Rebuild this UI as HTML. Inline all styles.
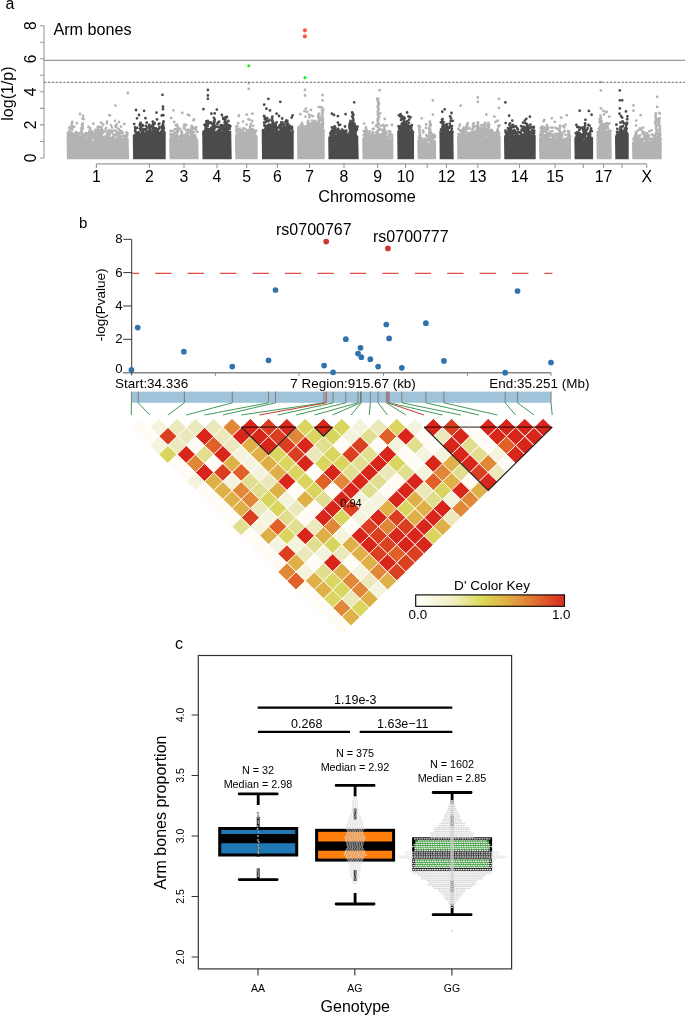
<!DOCTYPE html>
<html><head><meta charset="utf-8"><style>
html,body{margin:0;padding:0;background:#fff;}
svg{display:block;will-change:transform;font-family:"Liberation Sans", sans-serif;}
</style></head><body>
<svg width="685" height="1015" viewBox="0 0 685 1015">
<rect width="685" height="1015" fill="#fff"/>
<g>
<path d="M66.9 159.3L66.6 137.5L67.6 137.5L68.6 137.3L69.6 137L70.6 136.8L71.6 137L72.6 137.5L73.6 138.3L74.6 139.1L75.6 139.6L76.6 139.7L77.6 139.3L78.6 138.7L79.6 138.2L80.6 138L81.6 138.1L82.6 138.4L83.6 138.7L84.6 138.8L85.6 138.6L86.6 138.4L87.6 138.3L88.6 138.5L89.6 139.1L90.6 139.9L91.6 140.6L92.6 140.9L93.6 140.7L94.6 140.2L95.6 139.5L96.6 138.9L97.6 138.7L98.6 138.8L99.6 139L100.6 139.2L101.6 139.2L102.6 139L103.6 138.7L104.6 138.5L105.6 138.7L106.6 139.2L107.6 139.8L108.6 140.3L109.6 140.4L110.6 140L111.6 139.2L112.6 138.4L113.6 137.8L114.6 137.5L115.6 137.6L116.6 137.9L117.6 138L118.6 138L119.6 137.7L120.6 137.5L121.6 137.4L122.6 137.6L123.6 138.1L124.6 138.6L125.6 139L126.6 139L127.6 138.5L128.6 137.8L129.1 159.3Z" fill="#b3b3b3"/><path d="M133.1 159.3L132.8 134.9L133.8 134.3L134.8 133.7L135.8 133.2L136.8 133.2L137.8 133.4L138.8 133.9L139.8 134.4L140.8 134.9L141.8 135.1L142.8 135L143.8 134.8L144.8 134.4L145.8 134.1L146.8 133.8L147.8 133.6L148.8 133.5L149.8 133.4L150.8 133.2L151.8 132.9L152.8 132.5L153.8 132.1L154.8 131.9L155.8 132L156.8 132.3L157.8 132.8L158.8 133.3L159.8 133.8L160.8 133.9L161.8 133.7L162.8 133.2L163.8 132.6L164.8 131.9L165.7 131.6L165.7 159.3Z" fill="#4b4b4b"/><path d="M169.5 159.3L169.2 138.3L170.2 138.4L171.2 138.3L172.2 138L173.2 137.8L174.2 137.7L175.2 137.9L176.2 138.3L177.2 138.7L178.2 139L179.2 138.9L180.2 138.5L181.2 137.9L182.2 137.1L183.2 136.6L184.2 136.3L185.2 136.5L186.2 136.8L187.2 137.2L188.2 137.5L189.2 137.6L190.2 137.5L191.2 137.4L192.2 137.4L193.2 137.7L194.2 138.2L195.2 138.8L196.2 139.4L197.2 139.7L198.2 139.7L198.7 159.3Z" fill="#b3b3b3"/><path d="M202.5 159.3L202.2 133.1L203.2 133.3L204.2 132.9L205.2 132.2L206.2 131.7L207.2 131.7L208.2 132L209.2 132L210.2 131.5L211.2 130.7L212.2 130L213.2 129.9L214.2 130.3L215.2 130.9L216.2 131.3L217.2 131.2L218.2 130.7L219.2 130.3L220.2 130.4L221.2 130.8L222.2 131.2L223.2 131.1L224.2 130.5L225.2 129.7L226.2 129.3L227.2 129.4L228.2 130.1L229.2 130.7L230.2 130.9L231.2 130.8L231.7 159.3Z" fill="#4b4b4b"/><path d="M235.3 159.3L235 136.9L236 136L237 135.5L238 135.5L239 135.6L240 135.4L241 134.9L242 134.4L243 134.3L244 134.8L245 135.6L246 136.3L247 136.5L248 136L249 135.2L250 134.6L251 134.6L252 135L253 135.4L254 135.6L255 135.5L256 135.5L257 135.8L257.7 136.6L257.7 159.3Z" fill="#b3b3b3"/><path d="M262 159.3L261.7 130.5L262.7 130.7L263.7 130.9L264.7 130.8L265.7 130.3L266.7 129.6L267.7 129L268.7 128.7L269.7 128.9L270.7 129.6L271.7 130.5L272.7 131.3L273.7 131.7L274.7 131.7L275.7 131.5L276.7 131.4L277.7 131.4L278.7 131.7L279.7 132L280.7 132.2L281.7 132L282.7 131.5L283.7 131L284.7 130.6L285.7 130.7L286.7 131.3L287.7 132.1L288.7 132.7L289.7 133L290.7 132.9L291.7 132.4L292.7 131.8L293.7 131.3L293.7 159.3Z" fill="#4b4b4b"/><path d="M297.3 159.3L297 129.5L298 129L299 129L300 129.4L301 130.2L302 130.9L303 131.2L304 131.1L305 130.6L306 130.1L307 129.9L308 129.9L309 130L310 129.9L311 129.4L312 128.6L313 127.8L314 127.3L315 127.3L316 127.9L317 128.6L318 129.1L319 129.3L320 129.1L321 128.8L322 128.6L323 128.7L324 129.1L324.7 129.4L324.7 159.3Z" fill="#b3b3b3"/><path d="M328.5 159.3L328.2 136.5L329.2 136.9L330.2 136.6L331.2 136.2L332.2 135.9L333.2 136.2L334.2 136.8L335.2 137.2L336.2 137L337.2 136.1L338.2 135.2L339.2 134.8L340.2 134.9L341.2 135.1L342.2 135L343.2 134.5L344.2 133.9L345.2 133.8L346.2 134.4L347.2 135.4L348.2 136.2L349.2 136.5L350.2 136.4L351.2 136.3L352.2 136.6L353.2 137.3L354.2 137.9L355.2 137.9L356.2 137.2L357.2 136.4L358.2 135.9L358.7 159.3Z" fill="#4b4b4b"/><path d="M362.5 159.3L362.2 137.4L363.2 137.5L364.2 137.7L365.2 138L366.2 138.4L367.2 138.6L368.2 138.6L369.2 138.3L370.2 137.9L371.2 137.3L372.2 136.9L373.2 136.9L374.2 137.1L375.2 137.8L376.2 138.6L377.2 139.4L378.2 140.1L379.2 140.4L380.2 140.3L381.2 140L382.2 139.6L383.2 139.3L384.2 139.1L385.2 139L386.2 139.1L387.2 139.2L388.2 139.2L389.2 139.1L390.2 138.8L391.2 138.6L392.2 138.4L393.2 138.4L393.4 159.3Z" fill="#b3b3b3"/><path d="M397.5 159.3L397.2 130.7L398.2 130.3L399.2 130.1L400.2 130L401.2 130.1L402.2 130.1L403.2 130.1L404.2 129.9L405.2 129.6L406.2 129.3L407.2 129.2L408.2 129.4L409.2 129.8L410.2 130.4L411.2 131.1L412.2 131.7L413.2 131.9L414 131.8L414 159.3Z" fill="#4b4b4b"/><path d="M417.6 159.3L417.3 139.8L418.3 140.3L419.3 140.9L420.3 141.5L421.3 142L422.3 142.2L423.3 142.3L424.3 142.2L425.3 142.1L426.3 142.1L427.3 142.2L428.3 142.4L429.3 142.6L430.3 142.7L431.3 142.5L432.3 142.2L433.3 141.6L434.3 141L435.3 140.5L436.1 140.2L436.1 159.3Z" fill="#b3b3b3"/><path d="M439.7 159.3L439.4 131L440.4 131.3L441.4 131.8L442.4 131.9L443.4 131.6L444.4 131L445.4 130.7L446.4 130.9L447.4 131.5L448.4 132.3L449.4 132.7L450.4 132.5L451.4 132L452.4 131.6L453.4 131.6L453.7 159.3Z" fill="#4b4b4b"/><path d="M457.3 159.3L457 136.1L458 135.8L459 135.7L460 135.9L461 136.3L462 136.8L463 137.1L464 137.1L465 136.7L466 136L467 135.1L468 134.3L469 133.8L470 133.7L471 134.1L472 134.8L473 135.6L474 136.2L475 136.4L476 136.2L477 135.7L478 135.1L479 134.6L480 134.4L481 134.5L482 135L483 135.5L484 136.1L485 136.5L486 136.7L487 136.7L488 136.7L489 136.8L490 136.8L491 137L492 137.1L493 137.1L494 136.9L495 136.7L496 136.4L497 136.2L498 136.2L499 136.5L500 136.9L500.7 137.4L500.7 159.3Z" fill="#b3b3b3"/><path d="M504.3 159.3L504 136.2L505 136.4L506 136.8L507 137L508 136.9L509 136.4L510 135.5L511 134.8L512 134.4L513 134.5L514 135.1L515 135.7L516 136.1L517 136.1L518 135.7L519 135.2L520 134.9L521 134.8L522 134.8L523 134.9L524 134.6L525 134.1L526 133.4L527 132.9L528 132.8L529 133.3L530 134.1L531 135L532 135.6L533 135.8L534 135.5L535 135.2L535.7 135L535.7 159.3Z" fill="#4b4b4b"/><path d="M539.3 159.3L539 136.9L540 137.5L541 137.8L542 137.8L543 137.3L544 136.4L545 135.6L546 135.3L547 135.5L548 136.2L549 137.1L550 137.8L551 138L552 137.8L553 137.5L554 137.3L555 137.2L556 137.4L557 137.6L558 137.6L559 137.3L560 137L561 136.9L562 137.2L563 137.9L564 138.8L565 139.5L566 139.7L567 139.4L568 138.6L569 137.8L570 137.3L571 137.4L571 159.3Z" fill="#b3b3b3"/><path d="M574.6 159.3L574.3 137.3L575.3 137.5L576.3 137.4L577.3 137.2L578.3 137.2L579.3 137.5L580.3 138.2L581.3 139L582.3 139.7L583.3 139.8L584.3 139.6L585.3 139L586.3 138.5L587.3 138.3L588.3 138.4L589.3 138.7L590.3 138.8L591.3 138.6L592.3 138.1L593.1 137.5L593.1 159.3Z" fill="#4b4b4b"/><path d="M596.7 159.3L596.4 133.4L597.4 133L598.4 132.4L599.4 131.9L600.4 131.9L601.4 132.2L602.4 132.6L603.4 132.6L604.4 132.2L605.4 131.7L606.4 131.4L607.4 131.7L608.4 132.4L609.4 133.1L610.4 133.5L611.4 133.3L611.7 159.3Z" fill="#b3b3b3"/><path d="M615.3 159.3L615 136.1L616 136.7L617 136.9L618 136.5L619 135.7L620 134.9L621 134.4L622 134.3L623 134.5L624 134.6L625 134.3L626 133.8L627 133.2L628 133L628.7 133.3L628.7 159.3Z" fill="#4b4b4b"/><path d="M632.3 159.3L632 142.1L633 142.3L634 142L635 141.3L636 140.5L637 139.9L638 139.7L639 140L640 140.6L641 141.2L642 141.6L643 141.7L644 141.8L645 141.9L646 142.2L647 142.8L648 143.5L649 143.9L650 143.9L651 143.3L652 142.6L653 141.8L654 141.4L655 141.4L656 141.8L657 142.2L658 142.4L659 142.3L660 142L661 141.6L661.7 141.5L661.7 159.3Z" fill="#b3b3b3"/>
<path d="M71.4 135h0M70.2 135.6h0M72.1 137.2h0M93.5 135.6h0M75.4 138.8h0M105.7 129.5h0M102.6 137.8h0M126.7 139.4h0M119.6 137.4h0M76.6 139.7h0M86.5 133.5h0M78.8 136.3h0M106.4 137.7h0M100.9 139.5h0M71.5 136.6h0M108.9 138.9h0M86.8 136h0M95.2 139.5h0M115.7 134.1h0M82.6 135.8h0M99.5 132.4h0M111.8 138.6h0M126.9 139.1h0M93.1 136.7h0M77 137.9h0M70.3 133.8h0M113.9 135.5h0M120.6 136.7h0M109.8 137.9h0M102.8 137.5h0M118.5 129h0M96.4 136.4h0M71.6 133.3h0M106.9 123.2h0M117.4 137.2h0M91.1 136.7h0M69.3 135.7h0M78 139.4h0M71.4 132.5h0M75.7 139.2h0M91.4 133.6h0M72.8 136.1h0M101 132.6h0M117.2 131.8h0M84.7 137.5h0M89.5 131.9h0M125.6 138.6h0M78.5 138.9h0M81.9 136.4h0M103.4 138.5h0M68.1 136.2h0M90.1 136.9h0M125.3 135.3h0M98.9 136.1h0M108.6 140.6h0M122.1 132.8h0M120.5 133h0M91.5 138.7h0M74.1 135.5h0M71.6 137.3h0M80.5 138.1h0M88.4 138.6h0M67.9 137.4h0M74 137.3h0M69.4 130.9h0M104.9 138.5h0M83.1 137.5h0M89.8 139.2h0M119 122h0M96 137.8h0M73.1 137.7h0M88.5 137.8h0M117.8 137.9h0M69.3 127.8h0M99.7 139h0M100.6 139.4h0M99.7 126.8h0M119.9 134.3h0M83.6 137.7h0M78 134.9h0M100 134.5h0M87.7 138h0M116.8 124.5h0M119.2 133.1h0M117.2 133.9h0M81.5 136.1h0M89.3 138.9h0M69.6 136.7h0M83.5 135h0M125.5 137.2h0M124.3 123.9h0M125.4 137.6h0M81.2 137.6h0M79.7 137.9h0M105.5 131.4h0M118.5 136.4h0M107.2 134.4h0M73 134.5h0M122.7 133h0M113.1 136.8h0M78.6 134h0M87.9 133.5h0M126.4 137.9h0M92.1 131.4h0M111.5 139.9h0M75.5 139.1h0M122.4 132.4h0M76.7 134.4h0M126.9 136h0M89 136.4h0M75.8 140.1h0M126.3 136.1h0M99.6 130.5h0M94 134.4h0M117.6 137.7h0M83.1 137.7h0M82.4 135.7h0M83.5 137.1h0M75.8 132.1h0M89.2 137h0M103 131.7h0M93.2 133.1h0M98.1 136.7h0M99.4 139.2h0M94.4 140.6h0M68.1 132.7h0M78.3 137.6h0M111.6 137.8h0M87.5 136.5h0M101.3 134.6h0M74.3 136.1h0M82.9 137.8h0M114.4 135.9h0M101.7 135h0M122.8 136.1h0M104.8 136.7h0M98.7 135.3h0M95.1 138.2h0M96.7 130h0M110 134h0M124.6 138.2h0M101.6 130.2h0M118.5 138h0M75.2 137.7h0M72.3 136.6h0M72.3 133.8h0M115.1 130.5h0M77.2 136h0M107.6 139.8h0M121 126.6h0M81.1 128.4h0M91.9 138.9h0M127.5 133.6h0M77.6 137.9h0M98.9 137.9h0M79.7 137.4h0M111.4 140.4h0M101.3 137.8h0M69 136.5h0M105.5 136.7h0M71.8 123.6h0M115.4 126.2h0M74.2 137.8h0M70.3 128.5h0M84.2 135.8h0M93.3 123.7h0M117.2 134.9h0M76.9 123.2h0M102.2 130.1h0M73.3 136.2h0M109.3 133.6h0M72.3 121.8h0M106.1 127.9h0M72.9 126.2h0M71.9 126h0M95.2 134.3h0M101.2 122.7h0M84 135.8h0M99.6 135.1h0M74.5 135.6h0M70.9 135.3h0M86.7 134.6h0M113.6 134.7h0M98 135.5h0M88.8 136.4h0M83 136.4h0M112 132.3h0M79.3 133.1h0M124.2 135.9h0M117.2 133.5h0M97.7 127h0M91.6 132.8h0M109.3 115.1h0M88.5 127h0M110.4 131.1h0M92.3 134.2h0M71.2 135.8h0M72.2 129.4h0M83.3 135.6h0M73 126.8h0M120.3 130.6h0M84.9 135h0M85.5 133.2h0M77.4 133.4h0M83.7 119.2h0M126.5 132.3h0M82.6 118.7h0M86.5 134.2h0M68 134h0M96.5 132.8h0M80 132.8h0M68.2 134.9h0M73.3 133.8h0M70.4 136.4h0M86.2 135.1h0M103.2 132.5h0M113.1 130.8h0M111 125.3h0M91.3 134.4h0M127.2 135.6h0M111.5 131h0M70.5 127h0M121.6 131.3h0M112.1 127.6h0M76.3 132.6h0M98.3 127h0M116.3 127.2h0M103.1 124.7h0M109 130.2h0M81.7 136.3h0M75.9 134.1h0M74.2 126.9h0M101.6 138.2h0M101.5 136.3h0M101.8 135.5h0M101.5 133.5h0M101.7 131.9h0M101.7 131h0M101 129.8h0M101.7 128.6h0M101.8 127.4h0M97.6 138.2h0M98 136.3h0M97.8 134.6h0M97.2 133.6h0M97.9 132.4h0M97.7 131.1h0M97.1 130.3h0M97.8 129.1h0M108.4 138.2h0M108.4 136.6h0M108.9 135.6h0M109 134.5h0M107.8 132.3h0M108.8 130.8h0M94.7 138.2h0M94.7 135.9h0M94.6 134.2h0M95.6 132.6h0M95.4 131.6h0M95.5 130h0M82.1 138.2h0M81.5 137.3h0M82 135.7h0M81.7 134.5h0M81.9 133.1h0M81.5 131h0M82.5 129.1h0M82.6 128.1h0M82.6 126.2h0M81.9 124.9h0M82.7 123.5h0M89.5 138.2h0M89.3 137.3h0M89.5 135.2h0M89.5 133h0M89.8 131.7h0M89.6 130.6h0M90.2 128.4h0M127.8 93h0M115.4 105.6h0M79.9 114h0M83 116h0M110 115.3h0M115 120.8h0M107 121.6h0M192.1 135.2h0M172.2 138.2h0M181.3 135.7h0M187.9 137.4h0M175 134.3h0M181.6 137.2h0M178.9 129.4h0M179 136.7h0M180.2 137.2h0M194 119.3h0M180.4 138.3h0M190.3 137.2h0M170.7 131.2h0M182 132.7h0M181.5 131.3h0M183 137h0M170.9 136.2h0M187.9 129.7h0M172.9 135.3h0M180.6 136.7h0M174.5 137.1h0M184.7 128.2h0M173.5 136h0M192.4 126.6h0M175.9 138h0M196.2 127.1h0M183.6 136.9h0M195.7 137.7h0M195.1 135.5h0M192.9 137.3h0M191.9 137h0M181.5 132.2h0M193.1 137.2h0M176.4 137.1h0M184.6 135.2h0M173.8 137.3h0M190.2 130.5h0M171.6 136h0M191.1 137.9h0M193.3 137.7h0M186.8 134.7h0M187.6 136.5h0M181.9 135.5h0M182.1 134.8h0M182.7 135.7h0M171.1 135.7h0M183.8 136.2h0M191.3 132.9h0M183 137h0M183.4 136.7h0M174 136.4h0M173 136.6h0M184.4 136.7h0M187.8 137.4h0M190.5 133h0M184.4 136.7h0M184.2 135.3h0M196.4 139.4h0M193.8 119.8h0M190.4 132.4h0M175.8 125.2h0M183.9 126.7h0M195.4 138.7h0M191.9 129h0M172.3 137.1h0M191.1 137.4h0M194.9 137.6h0M192.7 137.4h0M184.2 128.7h0M176.2 137.4h0M184.3 135.6h0M171.5 138.1h0M174.9 129.1h0M189 130.5h0M175.1 133.1h0M173.6 135.8h0M187.8 136.2h0M194.2 132.2h0M186.3 125.2h0M173.3 110.3h0M187.6 133.8h0M192.2 134.9h0M197.4 131.9h0M180.3 128.8h0M182.5 135.5h0M190.7 136.2h0M192.8 134.9h0M187.9 114.6h0M186.4 130.7h0M179 136.5h0M171.4 135.6h0M187.3 133.5h0M184.4 124.5h0M174.1 135.1h0M188.3 136.4h0M170.6 134.2h0M173.4 134.2h0M176.6 131.9h0M186.5 135.3h0M187.5 133.1h0M174.2 121.9h0M177.1 135.6h0M173.1 131.1h0M194.2 128.4h0M181.4 134.9h0M170.8 131h0M185.8 134.2h0M188.1 133.4h0M196 129.5h0M177 138.2h0M177.4 136.5h0M177 135.4h0M176.9 133.4h0M178 131.7h0M177.2 130.7h0M177.5 128.9h0M177.9 127.2h0M177.3 126.1h0M177 124.8h0M190.9 138.2h0M191.8 136.1h0M191.8 134.5h0M191.2 133h0M191.2 132.1h0M191.3 131.2h0M191.7 129.2h0M191.8 127.2h0M191.6 125.9h0M191.4 138.2h0M192.2 136.4h0M192.1 135.2h0M191.4 134.4h0M192 133.2h0M192 131h0M192.1 129.6h0M191.3 128.3h0M182.3 113h0M189.3 115.3h0M171.2 118h0M193.5 120.3h0M239.2 130.2h0M249.2 135.6h0M236.5 126.5h0M249.7 134.7h0M238.4 135.5h0M241.1 130.5h0M243.4 134.3h0M254.7 130.9h0M239.7 128.7h0M248.7 131.4h0M249.9 128.3h0M252.4 129.4h0M240.3 132h0M247.1 132.5h0M245.2 129h0M247.6 135.9h0M241.1 134.9h0M246.4 136.6h0M245.8 135.6h0M246.3 134.5h0M247.3 130.4h0M236.4 130.4h0M245.8 133.4h0M249.9 129.6h0M243.9 133h0M255.9 135.8h0M249.3 132.3h0M236.9 133.4h0M250.2 126.2h0M243 121.6h0M246.7 134.6h0M254.6 136h0M251 131.9h0M243.2 128.3h0M243.8 132.7h0M247 132.1h0M240.6 134h0M244.9 132.6h0M253.2 134.8h0M253.2 134.2h0M246.6 135.8h0M246.6 124.6h0M249.7 130.5h0M243.1 133.6h0M242.4 132h0M249.3 130.6h0M237.1 131.8h0M254.4 133.5h0M237.3 134.8h0M236.4 135.8h0M255.1 132.9h0M249.7 130.5h0M254.9 133h0M248.9 133.2h0M250.5 132.1h0M250.2 134.3h0M249.9 133.7h0M251.9 134.7h0M240 135.9h0M252.1 121h0M249.7 131.6h0M253.1 125.8h0M247.8 132.4h0M242.5 131.1h0M242.8 131h0M249.4 119.6h0M237.4 129.6h0M237.1 133.3h0M252.8 129.5h0M255 130.9h0M236.6 131.4h0M248.4 119.3h0M256.3 130.6h0M244.7 133.4h0M249.4 132.8h0M239.4 133.9h0M236.4 127.9h0M238.8 116.1h0M238.1 123.2h0M238.9 133.9h0M251 132.5h0M251.3 132.9h0M237.3 126.1h0M250.9 123.8h0M251.1 135.7h0M250.9 133.8h0M250.7 131.6h0M251.2 129.3h0M250.4 128.5h0M252.4 135.7h0M252.3 133.8h0M252.6 131.6h0M252.5 130.7h0M252.6 129.1h0M248.8 83.1h0M248.8 88.9h0M238.9 115.3h0M246.8 114.7h0M252.3 113.7h0M316.1 128h0M320.4 125.4h0M299.4 129h0M310.8 128.1h0M305.4 130.7h0M308.6 129.9h0M313.3 121.7h0M302 128.6h0M317.3 128.5h0M319.3 120.6h0M308.2 128.6h0M319.6 127.3h0M308.3 121h0M318 128.3h0M304.4 130.2h0M309.4 117.3h0M318.7 121.6h0M319 123.6h0M299.7 127.1h0M322.6 120.1h0M304.6 129.7h0M314.4 126.3h0M311.8 129.6h0M309.3 128.1h0M298.8 129h0M322.9 124.2h0M322.1 125.8h0M318.9 122.5h0M320.8 129.5h0M314.6 126.8h0M315.5 126.8h0M312.1 120.6h0M314.1 126.8h0M311.5 128h0M322.5 128h0M306.1 127.2h0M301.4 127.7h0M322.6 126.7h0M305.1 129h0M311.9 129.4h0M301.4 130.2h0M305.8 129.4h0M305.6 130.2h0M300.5 127.3h0M319.6 126.7h0M312.8 125.6h0M303.4 127.6h0M310 127.7h0M313.9 126.2h0M306.2 129.7h0M303.9 129.3h0M308 127.5h0M298.6 128.1h0M320.2 128.7h0M312.4 126.9h0M305.5 116.6h0M305.8 126.2h0M302.3 131.2h0M320.4 127.7h0M299.9 127.8h0M309.5 126.1h0M301.1 129.9h0M322.7 124.7h0M302.2 130h0M307.3 126.6h0M314 122h0M319.2 127.4h0M317.1 124.6h0M317.6 127h0M318.2 125.6h0M321.5 128.8h0M320.4 129.6h0M317.7 122.7h0M310.9 110h0M312.8 124.5h0M318.2 116.5h0M313.7 124.9h0M309.8 124.2h0M316.7 125.6h0M308.2 123.1h0M308.1 125.3h0M318.3 117.4h0M311 124.3h0M303 125.5h0M302 122.9h0M313.1 126.9h0M321.7 125.3h0M319.7 117.8h0M322.7 126.2h0M309.1 114.6h0M298.6 127.1h0M312.6 123.8h0M321.7 119.5h0M311.4 123.5h0M315.7 124.8h0M307.4 122.6h0M307.2 111.8h0M315.5 123.5h0M300.8 124.9h0M308.5 123h0M312.9 116.2h0M322.3 129.1h0M322.9 127.3h0M322.4 126h0M321.9 123.9h0M322.9 122.6h0M322.3 120.6h0M322.8 119.6h0M319.3 129.1h0M318.4 127.6h0M318.8 126.3h0M318.4 124.8h0M319 123.7h0M318.6 121.9h0M319 119.6h0M318.7 118.7h0M318.6 116.7h0M318.2 114.9h0M319.2 113.6h0M315.1 129.1h0M314.8 127.4h0M315.1 125.6h0M315.2 123.3h0M314.6 121.9h0M315.4 120.8h0M305 89.9h0M305 95.5h0M322.5 95.1h0M322.5 100.4h0M321.3 107.2h0M305.9 108.7h0M304.5 111.2h0M300.4 114.2h0M318.8 107.2h0M310.4 115.3h0M321.7 128.2h0M322.5 127.2h0M322.7 125.6h0M321.6 124h0M323 123.1h0M322.9 122h0M321.8 120.8h0M321.7 119.7h0M322.7 118h0M322.4 116.8h0M321.6 115.6h0M322.7 113.9h0M322.4 112.1h0M322 110.7h0M323.4 109.8h0M322.1 108.1h0M375.3 138h0M376.2 132.5h0M379.4 136.7h0M385.4 139.1h0M392.1 134.8h0M366.5 133h0M374.8 137h0M391.2 136.3h0M385.9 139.1h0M385.9 139.3h0M370.3 136.8h0M363.9 135h0M369.7 137.7h0M383.9 137.9h0M389.2 136.5h0M388.7 137h0M390 132.8h0M368.4 134.6h0M373.4 132.6h0M383.2 134.3h0M367 137.3h0M384.8 129.8h0M384.4 139.4h0M380.9 140.5h0M379.4 135.5h0M366.8 130.3h0M383 139.1h0M369.1 137.2h0M387.7 136.9h0M366.8 138.8h0M366.7 133.5h0M368.9 136.4h0M371.9 134h0M374.5 137.1h0M388.8 137.2h0M383.4 134.3h0M390.9 139.3h0M373.4 136.8h0M378 133.1h0M386.6 139.5h0M368.8 133.5h0M383.1 138.5h0M377.2 139.4h0M387.9 138.1h0M388.7 136.6h0M365.7 137.2h0M369.8 131.4h0M380.5 140.7h0M368.4 137.6h0M377 136.3h0M374.7 136.2h0M363.7 135.1h0M373.1 137.4h0M376.8 124.9h0M364.8 137.7h0M382.9 139.1h0M371.4 135.5h0M371.1 135.6h0M378.8 130.2h0M392.2 139h0M379.7 136h0M388.7 134.8h0M381.8 137.2h0M374 136.3h0M386.5 132.8h0M390.6 135.6h0M372.3 132.7h0M384.9 137.2h0M381.9 139.1h0M379.4 139.1h0M365.2 137.2h0M372.8 122.7h0M377.4 138.4h0M370.5 137.5h0M373.6 136.9h0M363.7 131.2h0M376.6 137.2h0M379.9 139.7h0M368.4 138.9h0M372.2 136.2h0M384.5 136.9h0M390.6 134.3h0M390.1 131.9h0M365.8 135.5h0M380.3 113.3h0M373.8 128.6h0M375.9 125.8h0M365.5 133h0M389.5 134.8h0M370.9 136.4h0M368.3 134.8h0M383.9 135.2h0M375 135.3h0M380.9 125.9h0M382.2 135.3h0M384.7 119h0M380.9 136.1h0M386.9 125.5h0M373.4 135.7h0M368.9 132.4h0M388.8 131.1h0M390.2 135.2h0M372.9 129.2h0M382.3 133.7h0M383.1 134.3h0M365.2 133.7h0M364.8 131.3h0M373.2 132.9h0M380.8 134.9h0M376.9 136.4h0M390.2 132.1h0M392 136.2h0M381.2 129.7h0M373 136h0M368 135.7h0M385.8 138.2h0M385.5 136.7h0M385.5 135h0M385.5 133.2h0M385.7 131.9h0M384.2 138.2h0M384.2 136.9h0M383.8 134.6h0M383.9 133.3h0M383.4 131.1h0M383.8 130.3h0M384.2 128.5h0M384.4 127.1h0M384.2 125.9h0M383.3 125h0M365.7 138.2h0M366.2 137.1h0M365.3 135.7h0M366 134.6h0M365.3 132.4h0M366 131.5h0M366.3 130.3h0M365.8 128.8h0M366 127.4h0M379.6 90.2h0M378.3 98.8h0M378.3 103.4h0M378.3 106.7h0M378.3 110h0M378.3 113.3h0M378.3 116.7h0M378.3 120h0M364.2 123.6h0M392 124.9h0M377.9 138.2h0M377.5 136.4h0M377.4 134.9h0M378.1 133.4h0M377.4 131.7h0M378.1 130.3h0M379.2 128.6h0M377.7 127.1h0M377.8 126.1h0M377.8 124.8h0M378.8 123.8h0M377.9 122.3h0M377.7 120.5h0M377.6 119.1h0M379 117.4h0M378.8 116.3h0M377.9 114.7h0M378.3 113.5h0M377.6 111.8h0M378.5 110.3h0M378.5 109h0M377.7 107.3h0M378 105.6h0M379 104h0M379 103h0M377.9 101.2h0M377.5 100.4h0M377.3 98.6h0M421.9 139.7h0M419.6 140.8h0M430.4 142.1h0M423.9 141.8h0M432.4 142.4h0M429.1 136.4h0M421.9 140.7h0M431.7 139.9h0M424.7 142.5h0M425.9 141.1h0M430.4 142h0M425.3 139.1h0M432 141.6h0M425 139.8h0M433.9 141.4h0M434.6 137.4h0M424.7 139h0M424 142.5h0M431.1 141.6h0M427.3 140.3h0M433.5 137.4h0M419 137.8h0M426.2 140.5h0M432.5 140.9h0M426.4 135.2h0M425.9 140.3h0M427 136.8h0M429.7 138.6h0M425.2 142.5h0M429.8 140.4h0M431.3 138.3h0M420.5 141.2h0M419.9 135.8h0M420.3 141.1h0M431 140.4h0M419.5 137.6h0M430.3 141h0M419.5 137.5h0M425.5 139.7h0M435.1 135.9h0M433 142.2h0M424.1 140.3h0M418.7 125.9h0M423.1 141.7h0M423.8 141.8h0M432.8 140h0M427 140.7h0M419.4 140.2h0M432.9 137.3h0M432.7 137.4h0M421.9 138.7h0M427.5 136.5h0M426.3 135.4h0M428.2 136.6h0M431.8 137.8h0M433.8 134.7h0M419.4 137h0M427.4 136.2h0M427.9 136.9h0M423.1 130.6h0M423.4 132.4h0M431.8 134.2h0M426.1 124.5h0M425.9 127.8h0M419.6 136h0M429.1 138.7h0M432.8 138.6h0M428.4 137.9h0M433.8 134.6h0M431.8 135.3h0M429.3 140.6h0M430 139.5h0M430 138.4h0M429.1 137.3h0M429.9 136.3h0M429.4 134.1h0M429.3 132.3h0M429.8 130.1h0M429 129.1h0M419.5 140.6h0M419.8 139.5h0M419.8 138.2h0M420.2 137.1h0M420.2 135.8h0M420.1 134.7h0M419.6 132.5h0M419.6 131.6h0M419.4 129.8h0M419.3 128.2h0M420 126.6h0M432.9 100.4h0M432.9 114.7h0M421.7 118.3h0M430 121.6h0M430 124.9h0M430.4 139.8h0M430.7 138.9h0M430.8 137.9h0M430.9 136.1h0M429.6 134.8h0M430.5 133.6h0M430.9 132.3h0M430 131.3h0M430.2 129.7h0M429.2 128.3h0M429.5 127.3h0M430.7 125.6h0M430.8 124.6h0M430.2 123.7h0M429.7 121.9h0M498.4 131.6h0M468.7 128.7h0M467.9 134.9h0M477.3 135.3h0M478.7 127.7h0M486.7 133.1h0M474.5 131.6h0M491.2 133.7h0M497.3 130.9h0M475.1 136.6h0M485.3 131h0M472.4 132.4h0M492.9 132.4h0M458.5 134.1h0M459 135.9h0M491.9 135.7h0M483.3 134h0M472.2 134.5h0M472.9 129.2h0M483.9 134.9h0M461.9 135.7h0M487.3 135.3h0M485.7 131.5h0M463.3 133.8h0M460 130.6h0M465.9 136.2h0M497.9 135.2h0M467.6 128.3h0M483.6 128.6h0M474.6 134.4h0M497.9 134.3h0M499.2 136.3h0M492.7 137h0M480.1 134.9h0M465.6 127.6h0M477.1 130.7h0M468.7 133.3h0M462.5 134.6h0M494 135.2h0M473.9 127.4h0M495.3 133.5h0M461.4 133.5h0M476.7 126.2h0M473.3 132.5h0M484.5 135h0M479.9 131.4h0M495.9 134.9h0M473.4 123.7h0M460.7 130.4h0M486.6 134.5h0M476.8 132.1h0M495.2 132.8h0M489.3 137.1h0M471.8 134.1h0M497.8 129.3h0M464.3 134.7h0M482.2 135.3h0M474.5 132.1h0M484.9 135.5h0M489.9 136.1h0M480.8 133.1h0M498.8 133.2h0M491.6 133.7h0M474.1 125.8h0M487.7 133.3h0M469.8 133.7h0M482.1 129.7h0M491.2 136.1h0M464.1 135.2h0M494.6 136.8h0M488.9 136.6h0M471.2 134.4h0M470.6 132.6h0M498.3 125.9h0M466 135.3h0M497.4 135.9h0M471.6 132.7h0M462.8 136.3h0M474.6 135.1h0M498.2 135.7h0M466.7 128.6h0M476.9 130.7h0M484.7 131.6h0M471.3 134.1h0M489.6 135.1h0M481.4 131.4h0M489.5 136.2h0M473.3 127.9h0M480.2 133.8h0M484.4 135.6h0M490.2 137.2h0M492.5 134.8h0M472.9 126h0M469.3 133.3h0M461.2 134.1h0M489.5 133.5h0M475.4 131.5h0M462.9 136h0M485 125.2h0M484.5 132.7h0M490.4 135.7h0M497.2 132.2h0M472.4 133.7h0M491.7 136h0M466 130.4h0M480.3 132.5h0M486 129.5h0M463.8 136.2h0M461 135h0M479.1 128.8h0M485.9 134.1h0M475 134.1h0M469.6 128.1h0M490.9 131.3h0M464.6 128.1h0M489.5 130.3h0M495.5 121.9h0M489.1 124.9h0M485.2 122.9h0M463.7 127.6h0M487.4 129h0M469.7 133.6h0M483.3 124.8h0M469.6 132.7h0M467.6 133.5h0M486.3 114.5h0M491.5 131.7h0M487.3 133.6h0M493 131.9h0M458.4 128.8h0M464 132.3h0M460.7 130.9h0M481.3 125.3h0M459.9 124.7h0M462.9 132.7h0M484.4 131.8h0M472 129.6h0M467.3 125.7h0M467 124.3h0M491.8 129.9h0M459.6 126h0M459.5 130.3h0M475.8 133.7h0M484.4 127.2h0M482.5 131.3h0M479.5 129.3h0M467.7 123.3h0M499.5 125.4h0M498.1 131.9h0M499.1 133.6h0M478.1 133.3h0M477.1 127.9h0M487.6 130.8h0M472.4 132.9h0M475 132.3h0M466.3 127h0M479.7 131h0M466.5 127.6h0M466.4 132.4h0M481.5 127.6h0M498.6 126.7h0M497.6 120.7h0M487.5 135.7h0M487.4 134.5h0M488.3 132.4h0M487.7 130.7h0M487.6 129.3h0M488.6 127.5h0M487.4 126.3h0M487.8 125.2h0M488.4 123h0M462.5 135.7h0M462.9 133.7h0M463.4 131.4h0M462.9 129.4h0M464.1 135.7h0M463.6 134.1h0M463.4 132.9h0M464.2 130.7h0M464.6 128.5h0M488.8 135.7h0M487.9 133.6h0M488 132.7h0M488.2 131h0M488.8 130.2h0M488.3 128.2h0M488.9 127.3h0M487.9 125.7h0M460.7 105.7h0M477.8 97.5h0M477.8 101.8h0M473.8 123.3h0M498.9 98.8h0M498.9 107.9h0M494.4 116.7h0M478 134.8h0M477.8 133.1h0M477.2 131.7h0M478.6 130.6h0M477 129.4h0M477.1 128h0M477.7 127h0M478.1 125.6h0M477.7 124h0M478.2 123.1h0M477.7 122.3h0M545.6 136.1h0M559.7 135.4h0M541 136.2h0M562.3 135.1h0M547.3 133.7h0M558.3 134.6h0M544.6 131.5h0M568.4 134.6h0M565.8 138.5h0M567.1 139.2h0M547 133h0M567.1 139.6h0M546.7 135.6h0M553.3 137.5h0M546 131.6h0M557.6 128.8h0M552.2 134.6h0M540.7 128.1h0M547.2 133.8h0M555.5 127.9h0M554.9 121.8h0M558.8 137.2h0M565.1 139.3h0M570 136.3h0M547 125.2h0M549.9 135.9h0M550.5 134.6h0M541 136.4h0M545.1 130.3h0M540.3 134.9h0M548 134h0M557 133.8h0M544.4 136h0M543.9 127.1h0M544.7 136.4h0M555.8 134.9h0M566.6 140h0M547.3 135.4h0M557.7 136.1h0M552.4 131.1h0M560 131.3h0M568.7 138h0M568.3 137.4h0M541.8 130.2h0M543.4 137.7h0M548.9 135.6h0M569 131.5h0M552.8 135.8h0M565.5 134.6h0M559.7 135.4h0M543.8 136.8h0M559.8 134.9h0M564.1 131.7h0M568.9 138.4h0M542.6 130.8h0M557.2 137.4h0M560.9 136.5h0M547.3 134.5h0M555.9 134h0M542.5 133.8h0M558.8 135.9h0M560.3 132.2h0M540.6 135.8h0M560.4 133.4h0M559.5 137.1h0M568.8 134h0M547.2 134.1h0M568.7 138.3h0M552.5 127.6h0M567 139h0M562.1 136.2h0M560 132.7h0M544.1 136.1h0M546.7 134.7h0M541.4 137.9h0M552.4 136.5h0M542.6 135.4h0M568.3 136.2h0M550.9 134.2h0M553.3 137.4h0M554.6 137.7h0M560.4 136.9h0M551.3 127.6h0M563.1 126.1h0M559.4 130.3h0M561.2 117.7h0M546.1 128h0M549.2 134.1h0M564.7 130.8h0M565.5 124.7h0M557.8 134.5h0M540.7 131.6h0M561.9 134h0M542.4 135.6h0M545.4 129.4h0M540.4 134.3h0M548.2 129.1h0M569.6 135.6h0M543.7 121.2h0M569.1 134.8h0M550.3 131.8h0M549.8 132.8h0M554.5 134.1h0M541.9 135.2h0M545.1 135.2h0M558.8 129.4h0M548.1 127.4h0M561.9 133.5h0M554.9 134.6h0M567.9 131.3h0M541.8 134.8h0M560.9 133.1h0M561.6 134.3h0M564 127.1h0M543.1 131h0M546 129.2h0M564.2 127.4h0M547.2 135.2h0M559.4 137.3h0M559.9 136.2h0M560 135.2h0M559.6 134h0M559.9 132.6h0M559.3 130.7h0M559.5 128.8h0M560 127.5h0M560 125.7h0M546.9 137.3h0M546.3 136.1h0M547 134.9h0M546.9 132.9h0M547 130.6h0M546.5 129.3h0M541.9 137.3h0M542.4 136.4h0M542.9 135.4h0M542.4 133.2h0M541.9 132.1h0M542.4 130.5h0M542.7 129.2h0M542.7 127.6h0M541.9 126.6h0M551.8 118.3h0M566.8 115.2h0M544.4 119.8h0M608.1 131.4h0M609.2 116.7h0M603.3 131.5h0M606.9 123.1h0M600.3 131.2h0M602 128.4h0M600.1 129.8h0M604.2 129.5h0M599.6 122h0M610.7 131.2h0M608 131.5h0M609.5 131h0M607.6 125.5h0M602.4 124.6h0M600.4 132.3h0M604.2 125.6h0M609.4 123.4h0M604.3 124.2h0M605 132.2h0M605.9 126.8h0M603.2 130.1h0M601.1 131.3h0M603.2 130.7h0M603.8 132.8h0M597.8 132.1h0M607 127.3h0M600.8 131.4h0M604.4 132.1h0M605.5 124.4h0M600.3 129.5h0M607.1 127.3h0M607 127.8h0M601.2 126.3h0M609.7 133.4h0M610 131.7h0M598.8 132.6h0M608.1 128.4h0M599.5 130.3h0M606 112.2h0M602.1 127.9h0M600.9 128.7h0M599.8 127.1h0M605.7 128h0M599.8 128.6h0M598.8 128.7h0M601.8 126.2h0M600.1 126.4h0M603.4 110.8h0M604 114.5h0M603.8 128.7h0M605.4 129.1h0M599.9 129.5h0M606.8 111.8h0M602.9 127.6h0M603.2 127.6h0M606.7 127.2h0M599.7 119.3h0M605.5 131.5h0M604.9 129.6h0M605.6 127.9h0M605 126.4h0M605.1 125.2h0M600.9 82.2h0M600.9 90.4h0M600.9 108.4h0M600.9 118.3h0M601.4 131.5h0M600.2 129.8h0M601.6 128.6h0M601.1 127h0M600.6 125.5h0M601 123.7h0M600.3 122.5h0M601.7 121.5h0M600 119.9h0M600.9 118.8h0M600.6 117.4h0M600.6 115.7h0M658.9 142.6h0M654.6 141.5h0M640.9 140.7h0M657.2 140.7h0M653.2 141.3h0M653.3 138.8h0M636 139.5h0M653.1 141.5h0M651.2 142.8h0M643.5 133.9h0M659.1 122.4h0M645 139.5h0M655.5 137.2h0M645.8 135.8h0M644.3 132.3h0M646.3 142.3h0M653.8 141.8h0M651.9 143.7h0M660.4 139.9h0M653.6 141.8h0M650.7 142.8h0M640.1 135.5h0M634.2 140.3h0M635.7 135.5h0M657.8 142.6h0M646 140.6h0M653 138.7h0M642.7 133.2h0M638.4 139.7h0M655.6 141.5h0M638.4 137.9h0M642.5 141.5h0M658.8 140.8h0M654.8 140.9h0M658.3 142.1h0M658.1 139.7h0M659.9 137.9h0M650.6 141.8h0M656.7 140.3h0M636 133.7h0M655.4 138.1h0M653.7 141.4h0M646 136.6h0M659.7 134.3h0M637.7 136.5h0M648.5 142.3h0M637.9 139.9h0M646.2 140.5h0M640.6 139.5h0M648.5 139.2h0M649.4 143.8h0M657.6 141.2h0M659.6 129.6h0M637.1 137.5h0M659.8 141.2h0M648.3 142.7h0M634.1 141.7h0M636.7 139.9h0M650.5 141.6h0M659.3 139h0M643.2 132.4h0M650.7 141.8h0M656.9 138.6h0M643.2 139.2h0M641.5 130.2h0M640 128.5h0M635.1 141.8h0M648.5 143.2h0M647.2 142.9h0M656.2 138.6h0M652 134.4h0M660.5 138.7h0M652.8 143h0M634.6 140.6h0M659.9 141.5h0M648.9 143.9h0M644.7 134.6h0M649.5 138.6h0M633.7 138.6h0M638.2 130.4h0M636.1 125.6h0M640.6 128.6h0M647.4 137.7h0M659.8 137.1h0M652.4 139.4h0M656.1 118.8h0M636.3 132.5h0M640.7 139h0M643.3 134.1h0M659.4 112.8h0M660.5 134.6h0M651.2 138.9h0M653.2 135.6h0M643.1 127.6h0M640.3 139h0M637.6 138.9h0M649.4 131.3h0M637.7 136.1h0M649 135.5h0M644.6 135.7h0M633.7 139.5h0M644.9 138.4h0M654 138.3h0M655.9 138.3h0M635.8 136.4h0M643.9 137.6h0M654.3 138.5h0M651.7 130.3h0M645.7 136.1h0M658.6 134.9h0M638.3 139.4h0M635.5 141.5h0M635.9 139.7h0M636 138.4h0M635.7 136.2h0M635.7 135.1h0M636.5 133.8h0M635.9 131.9h0M635.4 141.5h0M634.6 139.7h0M634.5 137.9h0M634.8 136.3h0M635.3 135.3h0M647.5 141.5h0M647.5 140h0M647.8 139h0M646.9 138.2h0M646.9 136.8h0M647.5 135.8h0M647.1 133.5h0M657.2 96.8h0M657.2 106.9h0M633.5 105.4h0M633.5 110.7h0M640.7 115.2h0M636.2 120.6h0M659.6 113.7h0M659.6 118.3h0M656.3 141.5h0M655.8 140.4h0M655.9 138.9h0M655.1 137.9h0M657 136.6h0M655.2 134.8h0M656 133.5h0M656.3 132.5h0M656.6 131.2h0M656.9 130h0M655.9 128.4h0M656 127.4h0M656.4 126.5h0M656.2 125h0M655.1 123.2h0M656.6 121.6h0M655.6 120.7h0M656.2 119.8h0M655.7 118.3h0M655.7 116.7h0M655.6 115.2h0M655.9 113.4h0M658.2 141.5h0M659.7 139.9h0M658.3 138.5h0M659.4 136.8h0M658.8 135.8h0M658 134.3h0M658.7 133.5h0M660 131.8h0M659.8 130.6h0M659.7 129h0M659.9 127.6h0M659.9 126.1h0M658.4 124.7h0M659 123.4h0M658.7 122.2h0M659.2 120.9h0M658.6 119.9h0M659 118.5h0" stroke="#b3b3b3" stroke-width="2.8" stroke-linecap="round" fill="none"/>
<path d="M156.5 130.5h0M157.1 129.3h0M142.9 135.4h0M162.5 133.8h0M148.5 132.7h0M143.2 131.1h0M164 132.1h0M154.2 131.4h0M151.2 132.1h0M139.2 133.8h0M140.5 127.1h0M149.3 133.2h0M161.8 115.5h0M147.9 133.6h0M140 134.6h0M144.6 135h0M141.4 134.4h0M151.5 126.5h0M157 131h0M146.8 132.1h0M145.6 133.5h0M136 132.7h0M163.7 133.3h0M149.5 130.8h0M160.5 133.4h0M142.4 134.6h0M146.3 132.6h0M163.3 127.5h0M160.8 134.3h0M135.1 130.1h0M161.5 132.3h0M152.1 133.4h0M146.1 125.9h0M159.4 127.4h0M163.9 132.1h0M137.4 133.1h0M150.1 130.1h0M162.9 129.5h0M153.9 127.8h0M148.1 131.5h0M135.3 129.1h0M141.2 127h0M153.9 131.4h0M138 133h0M153.6 129h0M137.5 133.4h0M150.1 131h0M146 133.7h0M152.5 133.4h0M143.3 133.5h0M163.4 130.3h0M161.1 132.3h0M141.3 134.4h0M163.5 129.7h0M143.5 135.5h0M149.3 130.3h0M147 133.3h0M154.5 124.1h0M141 135.3h0M144.4 133.5h0M155 131.7h0M158.5 128.8h0M149.5 133.3h0M163.8 132.5h0M159.2 133h0M140.9 130.6h0M143.1 125.5h0M149.3 133.4h0M140.9 133.6h0M154.5 122.8h0M138.6 132.3h0M140.6 122.8h0M138.4 133.7h0M135.9 132.1h0M161.6 127.3h0M156.5 112.6h0M162.6 132.9h0M139.8 125.3h0M156.9 132.7h0M154.4 131.1h0M145.5 133.6h0M139.3 134.4h0M142.7 134.2h0M163.3 133.3h0M163.6 132.9h0M145 129.2h0M159.3 128.5h0M135.6 128.1h0M145.5 118.2h0M140 129.1h0M161.5 131.4h0M146.7 122.7h0M157.6 131.3h0M135.2 131.2h0M162.3 130h0M157 119.4h0M144.5 129.9h0M163.4 126.5h0M142.1 124.9h0M143.8 129.8h0M134.2 124.1h0M162.1 126.2h0M163 131.4h0M141.3 128.1h0M163.4 115.2h0M145.9 130h0M147.3 127.9h0M162.5 130.5h0M158.7 124.4h0M159.3 123.7h0M152.7 129.4h0M143.9 129.2h0M158 131.1h0M140.1 124.1h0M141.7 131.2h0M135.1 127.3h0M144.1 110.8h0M142.2 131.1h0M137.1 127.9h0M155.8 128.4h0M141.3 128.7h0M153.3 133.2h0M153.2 131.1h0M153.4 130.1h0M153 128.8h0M153.2 127.4h0M152.7 126.3h0M152.5 125.1h0M153.1 123h0M152.8 121.7h0M150 133.2h0M150.2 131.4h0M149.6 130.4h0M150 128.4h0M149.1 126.2h0M149.2 124.9h0M163.9 133.2h0M163.8 131.8h0M163.1 130.3h0M163.9 128.3h0M163.5 127.3h0M163.1 125.6h0M163 124.2h0M163.1 123.1h0M163.6 121.4h0M162.5 94.8h0M163 106.7h0M136 110h0M163 109.2h0M137 118.3h0M139 115h0M222.5 125.3h0M215.4 127.2h0M219 130h0M209.3 129.3h0M205.6 124.7h0M207.4 132.1h0M206.4 123.5h0M212.9 130h0M204.3 133.2h0M222.3 128.4h0M222.5 127.3h0M205.3 129.7h0M213.4 124.7h0M225.8 122.9h0M205.3 126h0M228.4 121h0M206.4 131.5h0M206.5 132.1h0M226.6 124.2h0M220.7 125.1h0M220.7 129.8h0M206.2 131.9h0M224.1 130.9h0M212.2 129.4h0M204.1 132.8h0M211.2 127.9h0M213.5 129.1h0M229.7 128.9h0M226.7 126.6h0M204.3 131.6h0M215.4 126.5h0M212.9 126.5h0M218.1 130.9h0M227 129.4h0M225.8 129.6h0M203.5 133.1h0M224.2 118.4h0M203.6 131.6h0M216.9 126.6h0M208.5 130.2h0M212.9 124.6h0M210.6 122.5h0M211.2 130.4h0M222.5 129.4h0M206.5 128.9h0M205.7 127.6h0M222.5 126.6h0M220.6 129.4h0M214.4 129.1h0M227.7 129.6h0M227.7 129.8h0M209.1 131.4h0M228 127.6h0M213.8 123.2h0M209.9 130.4h0M218 127h0M224 128.2h0M213 129.2h0M207.7 126.1h0M221.5 126.8h0M208.1 130.3h0M224.5 128.1h0M206.9 130.2h0M227.6 129h0M208.7 131.3h0M222.6 125.6h0M207.7 131.7h0M210.2 130.7h0M217.7 131.1h0M212.4 129.8h0M230 126.9h0M206.3 121.4h0M206.3 130.6h0M230.3 126.2h0M223.4 129.7h0M208.8 129.1h0M206.4 131.5h0M214.1 128.9h0M214.4 120.8h0M222.4 125.4h0M220.7 125.8h0M207.4 124.2h0M214.5 121.9h0M228.2 126.1h0M219.1 121.7h0M215 127.7h0M223.1 117.8h0M224.6 122.7h0M226.7 123h0M220.9 125.9h0M212 123.8h0M206.2 126.2h0M224.8 122.4h0M220.6 127.5h0M215 125.8h0M220.4 126.3h0M221.9 115h0M208.5 123.4h0M224.7 126.4h0M216.8 109.6h0M204.5 124.9h0M207.9 121h0M229.1 125.2h0M206.2 124.5h0M218.2 122.4h0M217.4 123.7h0M226 125.2h0M214.7 113.4h0M209.2 123h0M213.8 130.7h0M214.1 128.4h0M214 127.5h0M213.7 126.1h0M214.2 124.6h0M214.1 122.8h0M214 121.5h0M214.8 119.6h0M213.9 118h0M213.8 130.7h0M214.6 128.7h0M214.2 127h0M213.9 125.3h0M214.1 123h0M225.4 130.7h0M225.5 129.4h0M225.9 128.4h0M225.9 127.1h0M225.3 125.9h0M225.4 124.6h0M224.9 123.5h0M225.2 121.6h0M225.2 120.4h0M225.4 118.9h0M225.6 117.1h0M207.9 89.9h0M207.9 95.5h0M207.9 98.8h0M203.4 109.2h0M211.4 113.7h0M227 117h0M223.3 119h0M274.5 127.1h0M291.1 128.3h0M279.8 131.4h0M264.8 119.2h0M283.9 125.6h0M272.9 128.7h0M292 127h0M280.9 131.5h0M275.7 124.8h0M274.2 128.3h0M280.9 125.2h0M287 130.7h0M263.1 130.2h0M275.5 129.3h0M287.2 124.6h0M264.3 125.5h0M287.1 125.1h0M280 131.5h0M288.3 127.1h0M283.3 123.9h0M273.3 131.5h0M279.4 126.9h0M269 124.6h0M290.7 132.7h0M281 128.9h0M276.8 131.1h0M270.6 124.8h0M286.5 129.2h0M265.6 125.8h0M285.9 130.4h0M280.2 125h0M289.3 130.8h0M277.2 128.9h0M268.6 128.7h0M268.4 125.5h0M273.8 129.4h0M275 129.8h0M267.4 129.9h0M292.6 131.3h0M266.2 127.5h0M286.4 130.7h0M280.7 131.3h0M278.4 131.9h0M264 116h0M288.7 131h0M279.8 131.5h0M286.1 129.4h0M291.1 128.5h0M287.3 120.8h0M270.5 129.3h0M269 128.5h0M265.5 131.1h0M279.6 125.4h0M276.6 122.3h0M290 133.3h0M280.8 131h0M266.6 120.2h0M270.6 126.7h0M282 122.1h0M282.9 130.4h0M276.3 131.4h0M291.7 117.5h0M269.6 129h0M270.6 128h0M289.8 125.8h0M287.9 132.4h0M286.4 127.1h0M282.2 118.5h0M264.7 130.9h0M285.4 121.9h0M283.1 130.8h0M280.6 127.8h0M266.1 129.5h0M270.6 129h0M277.3 131.3h0M270.1 128.9h0M283.1 132h0M284.3 130.7h0M264.1 122.7h0M269.6 120.2h0M288.7 126h0M267.2 128.1h0M265.9 122h0M288 123.8h0M276.4 126.9h0M287.4 125.6h0M281.7 128.2h0M269.6 128.7h0M284.2 124.8h0M267.3 118.2h0M270.9 126.2h0M267.6 127.4h0M287.9 126.9h0M268 125.5h0M272.4 116.7h0M266.4 108.7h0M264.7 117.1h0M282.8 127.8h0M277.2 127.3h0M270.7 127.9h0M292.6 115.3h0M265.9 127.2h0M289.6 128.7h0M284.6 127.2h0M292.1 129h0M287 126.8h0M267.2 129h0M287.7 125.1h0M268.5 126h0M290.1 127.8h0M280 128.3h0M268.3 121.3h0M284.1 127.9h0M265.4 128.6h0M281.1 125.4h0M271.1 127.8h0M281.2 122.5h0M286.4 130.7h0M287.1 129.8h0M287.1 128.3h0M287.2 127.4h0M287.2 126.1h0M286.8 124h0M287.3 123.2h0M287.2 121.6h0M286.4 120.4h0M273.9 130.7h0M273.4 129h0M274 127.4h0M273.6 125.8h0M274.4 123.9h0M272.6 130.7h0M272.2 128.8h0M273.3 126.6h0M272.7 125.1h0M272.8 123.5h0M273.3 122.6h0M272.3 121.4h0M272.4 120.5h0M272.1 118.4h0M268.4 98.8h0M280.3 101.8h0M264.2 104.7h0M270 110.4h0M276.6 113.7h0M279 116h0M336.4 135.8h0M349.8 136.2h0M338.2 128.8h0M343.2 130.3h0M336.4 136.8h0M339.6 134.6h0M356.9 136.6h0M345.3 133.8h0M344.6 132.8h0M340.9 135.2h0M333 130.6h0M339.4 134.4h0M334.9 136.2h0M336.2 137.6h0M348.2 135.4h0M333.9 132.7h0M332.1 135.6h0M353 136.7h0M342 129.6h0M352.2 136.2h0M339.5 131h0M340.1 124.8h0M335.4 127.8h0M343.7 134.1h0M342.3 135.1h0M349.4 136h0M354.9 135.5h0M339.9 134.3h0M346.7 134.1h0M354.1 137.4h0M344 132.4h0M337.1 132.6h0M340.4 131.8h0M345.5 133h0M340.5 135.1h0M334.5 131h0M338.6 132.1h0M332.6 133.7h0M339.7 133h0M337.9 136.4h0M338.3 134.9h0M333.1 132.3h0M337.5 134.9h0M355.1 133.5h0M354.4 131.9h0M333.2 135.7h0M330.3 133.4h0M348.2 135.3h0M341.1 131.8h0M349.2 136.1h0M353.4 136.4h0M347.2 135.2h0M332.7 128.4h0M350.2 132.8h0M330.6 137h0M334.1 136h0M338 135h0M330.6 135.9h0M347.5 135.2h0M353.2 134.4h0M349.7 136.1h0M341.8 131.8h0M339.3 135.3h0M353 132.2h0M337.6 136.5h0M353.6 134.8h0M330.8 136.2h0M332.6 131.2h0M335.4 129.6h0M350.6 136.6h0M349.1 135.1h0M350.6 131.1h0M337.4 136.3h0M356.2 136.5h0M355.7 134.5h0M350.3 131h0M347.2 133.9h0M331 133.2h0M341.6 133.2h0M355.7 137.9h0M351 133.8h0M349.3 125.3h0M336.9 129.8h0M356.8 128.6h0M344.8 132.5h0M331.2 131.7h0M341.1 132.8h0M338.3 133.2h0M349.4 128.1h0M336.2 132.6h0M344 130.9h0M355.9 131.7h0M337.9 122.6h0M333.5 129.6h0M338.9 125.1h0M345 126.5h0M334.3 128.2h0M346.4 130.7h0M351.1 124.6h0M332.7 132.2h0M339.7 132.8h0M331.2 132.3h0M335.1 127.6h0M342.1 133.4h0M338.7 130.7h0M339.7 133h0M331.5 134h0M357.5 126.7h0M331.9 127.3h0M357.1 129.6h0M332.6 130.5h0M341.7 132.9h0M344.8 134h0M355.2 135.7h0M355.2 133.5h0M354.7 132.3h0M354.4 131.2h0M355.4 129.2h0M354.6 128h0M355.4 126.2h0M354.6 124h0M352.4 135.7h0M353 134.6h0M352.4 133.3h0M352.4 131.6h0M352.3 129.6h0M352.7 128.7h0M353 126.9h0M353.1 125h0M352.6 122.8h0M334.4 135.7h0M334.5 134.7h0M334.2 133.7h0M333.8 131.4h0M334.2 130.5h0M334.6 129.4h0M334.7 128.6h0M334.6 126.5h0M354.2 102.3h0M331.9 113.7h0M337.9 116.2h0M345.6 114.2h0M352.3 113h0M334 115h0M353 118.3h0M353 121.6h0M352.1 134.8h0M352.5 133.4h0M352.2 132.1h0M352.8 130.9h0M353.3 129.2h0M352.1 128.2h0M352.6 126.9h0M351.9 125.8h0M352.1 124.9h0M353.4 123.6h0M353.2 121.9h0M353.4 120.1h0M353.1 118.6h0M352.9 117.7h0M352.1 116.3h0M353.4 114.9h0M352.8 113.6h0M352.2 112.5h0M349.6 134.8h0M350.9 133.8h0M349.7 132.6h0M350.2 131.1h0M350.3 129.7h0M350.6 128.3h0M349.7 127.1h0M351.3 126.1h0M349.7 124.7h0M350 123h0M350.6 122.1h0M350.5 121h0M403.4 122.3h0M408.9 122.8h0M412.7 132.1h0M401.9 125.4h0M408.5 129.7h0M405.8 129.2h0M404.7 130h0M398.8 115.3h0M403.1 123.6h0M400.2 128.3h0M400.5 128.7h0M401.1 126.7h0M400.6 126.1h0M405.8 129.7h0M403.6 128.3h0M411.8 130.2h0M401.6 119.2h0M411.3 127.3h0M402.5 130h0M402.3 130.4h0M399.1 128.5h0M404.4 127.7h0M403.8 130.5h0M408.5 126.4h0M406.4 127.2h0M408.5 116.5h0M411.2 126.7h0M404.3 129.1h0M404.6 118.4h0M404.1 128.9h0M404.4 129.9h0M413 132.2h0M407.3 121.1h0M402.2 127.4h0M404 129.6h0M401.4 130.2h0M410.7 125.9h0M411.7 131.5h0M408.6 128.6h0M407.9 127.1h0M403.1 118.8h0M398.5 126.3h0M410.9 128.6h0M407.1 112.5h0M401.9 123.8h0M409.3 126.5h0M408.8 126.4h0M406.1 124h0M408.3 127h0M407.6 124.9h0M401.7 124h0M402.3 116.4h0M405.4 122.3h0M406.1 125.6h0M401.7 128.2h0M411.9 125.1h0M406.1 125.1h0M410.3 127.6h0M401 119.9h0M405.2 123.6h0M410.5 117.2h0M411.1 128.8h0M404.5 130.7h0M403.7 129.7h0M403.7 128.5h0M404.5 127.1h0M404.1 125.5h0M404 124.6h0M404.4 122.3h0M404.1 120.8h0M404.5 118.8h0M404.4 117.7h0M400.6 114.2h0M400.6 116.7h0M409.3 119.6h0M442.8 127.3h0M444.3 131.8h0M447.4 131.7h0M447.3 126.3h0M447.8 130h0M441.1 129.5h0M441.9 128.8h0M442.3 129.4h0M444.9 130h0M448.7 132.2h0M442.7 123h0M444.7 125.4h0M451.2 130.8h0M442.5 132.1h0M451.2 132.6h0M446.7 128.9h0M442.1 130.2h0M442.7 129.8h0M446.8 129.9h0M443.1 130.7h0M443.1 131.9h0M443.6 125.3h0M446.7 124.1h0M440.9 122.3h0M446.6 126.2h0M447.5 128.2h0M443.5 127.5h0M442.5 131.4h0M441.1 130.2h0M446.9 130.3h0M451.4 132.7h0M447.6 131.2h0M447.8 127h0M449.2 132.6h0M443.6 129.1h0M452.5 132h0M448.1 128.1h0M450.5 126.8h0M450.4 125.8h0M451.8 129h0M452 126.2h0M445.6 128.6h0M443.6 122.1h0M448.8 128.2h0M444.8 128.3h0M443.1 127.7h0M444.7 109.3h0M452.7 120.8h0M446.5 125.4h0M450.1 116.4h0M449.7 123.7h0M443.1 123.9h0M450.8 120.9h0M442 130.7h0M442.8 129.6h0M442.5 127.8h0M442.6 126.8h0M442.7 124.6h0M442.6 122.6h0M442.3 120.6h0M442.6 119.1h0M442.3 111.7h0M451.5 113h0M442 119.6h0M451 118.3h0M509.5 128.9h0M522.9 135.1h0M512.3 120.6h0M512 133.2h0M528.5 127.6h0M523.9 130.9h0M506.4 137h0M534 130.9h0M506.4 137.1h0M512.4 126.1h0M511.8 131.6h0M532.7 132.7h0M532.3 135.1h0M509.8 136.8h0M527.6 133h0M533.9 132.2h0M510.8 130.6h0M510.1 133.7h0M508.4 132.3h0M531.5 127.3h0M505.4 130.6h0M521.6 129.6h0M520.1 132.2h0M522.8 130h0M507.6 137.3h0M521.3 134.1h0M517 136.6h0M527.2 133.3h0M529.7 128.2h0M518.8 135.8h0M524.4 134.4h0M517.9 136.2h0M534 133.4h0M515.7 135.9h0M526.8 127.6h0M530.2 134.3h0M516.1 135.4h0M527.7 132.9h0M523.1 122.7h0M527.9 133.4h0M507.5 137.1h0M525.7 131.6h0M520.6 133.3h0M517.3 133.5h0M524.4 126.9h0M526.8 128.6h0M532.1 130.1h0M526.4 133.8h0M525.3 128.3h0M518 129.6h0M510.6 126.6h0M518.3 132.2h0M512.7 133.7h0M515.5 134.9h0M508.1 135.5h0M534.1 132.5h0M532.7 131.4h0M529.9 116.7h0M527.4 132.3h0M512.6 133.1h0M505.9 136.1h0M531.4 127.1h0M515 130.7h0M528.1 126h0M528.7 130.8h0M508.4 131.6h0M514.5 132.3h0M516.1 134.1h0M533.7 135.7h0M520.9 131.9h0M521.1 126.1h0M517.3 128.5h0M525.6 123.3h0M507.9 136.7h0M513.7 127.2h0M505.7 135.9h0M526.3 118.8h0M510.5 134.1h0M525.5 130.7h0M527.2 128.8h0M512.6 133.9h0M506.1 133.4h0M511.5 134.3h0M533.7 127.7h0M522.7 127.5h0M522.9 126.9h0M514.2 132.8h0M507.3 133.1h0M515.9 132.4h0M508.6 129.6h0M533.8 127h0M513.3 125.4h0M510.5 132.6h0M514.2 130.4h0M525.6 130.1h0M526.7 132.7h0M532.7 131h0M529.8 133h0M529.7 131.8h0M530.4 124.6h0M525 131.5h0M505.6 132.1h0M531.9 132.3h0M524.7 128.5h0M524.7 132.1h0M509.5 132.6h0M534.2 130.6h0M524.5 128.7h0M511.9 132.8h0M505.7 123.1h0M509.1 115.7h0M516 126.4h0M509.4 125h0M512.7 130.8h0M520.7 132.6h0M512.6 124.8h0M513.7 130.7h0M527.8 131.8h0M511.2 134.8h0M511.5 133.5h0M511.8 131.9h0M511.5 131h0M511 129h0M511.2 128.1h0M511.3 127.1h0M508.4 134.8h0M508.1 133.8h0M508 132.3h0M508.3 131.3h0M509 129.8h0M507.9 128.2h0M527.4 134.8h0M527.4 132.6h0M527.5 131.6h0M526.6 130h0M527.4 128.9h0M526.4 127.8h0M527.4 126.5h0M527.2 125h0M526.9 124.1h0M505.4 102.4h0M510 123.3h0M524.9 120.6h0M587.4 133.9h0M581.7 137.6h0M590.9 130.3h0M585.8 139.2h0M583.1 136.8h0M580.2 137.9h0M591.8 131.2h0M577.7 135.7h0M585.8 138.4h0M576.7 133.3h0M588.3 137h0M577 136.3h0M577.2 127h0M576.4 136.8h0M588.3 138.3h0M577.4 137.5h0M578.3 135.2h0M589.3 138.6h0M578.5 132.9h0M582.6 138.8h0M577.6 136.8h0M591.6 138.7h0M579.9 133.5h0M590.3 131.5h0M583.4 130h0M585.6 138.4h0M583.3 136h0M587.7 138.4h0M578.8 127.2h0M577.4 132.2h0M581.2 137.7h0M579.8 135.9h0M591.9 138.6h0M589.7 137.9h0M578.5 133.2h0M581.2 138h0M582.5 134.4h0M589.8 136.3h0M575.8 133.2h0M585.6 131.9h0M591.3 137.8h0M589.6 133.5h0M580 136.5h0M581.8 138.1h0M581.8 139.1h0M579.3 130.1h0M582.4 136.8h0M590.2 134.5h0M579.6 129.7h0M588.9 110.9h0M587.6 128.2h0M589 134.1h0M586.4 133.1h0M589.5 134.9h0M584.5 133.5h0M589.1 133.4h0M589.5 125.7h0M590.1 134.9h0M591.1 128.5h0M586.8 130.1h0M576.4 124.9h0M584.6 132.5h0M581.2 127.6h0M588.5 124.9h0M579.1 133.5h0M579.7 135.1h0M581 135.5h0M588.7 134.3h0M576.8 135.3h0M587.8 134.5h0M583.6 137.3h0M583 135.1h0M583.7 133.3h0M583.7 131.8h0M583 129.9h0M583.3 127.7h0M585.2 137.3h0M585.1 135.8h0M585.4 133.6h0M585 132.5h0M585.8 131.1h0M584.8 129.3h0M584.6 127.1h0M585.1 125.4h0M585.1 123.5h0M579.7 110.7h0M585.4 119.8h0M591.6 114.7h0M625.3 133.8h0M620.5 133.8h0M620.4 127.3h0M622.4 133.8h0M620.1 129.7h0M618.1 133.1h0M616.5 136.5h0M617 131.8h0M618 136.5h0M617 136.2h0M624.7 130.9h0M626.7 124.6h0M622.6 126.4h0M617.3 128.8h0M621.2 134.2h0M624.8 128.6h0M620.7 135.1h0M626.3 129.6h0M623.1 122.5h0M616.7 137h0M617.7 137.3h0M624.4 131.8h0M617.6 136.8h0M618.4 133.9h0M624 123.4h0M620.4 122.6h0M621.3 133.3h0M619.2 135.3h0M627.4 116.3h0M624.3 134.4h0M618.4 136.4h0M620.3 131h0M617 134.7h0M624.1 135h0M621.3 129.7h0M622.9 132.8h0M626.3 128.3h0M620.1 130.5h0M627.1 122.8h0M626.7 128.8h0M617.9 132.2h0M620.7 127h0M616.4 124.6h0M625.3 129.4h0M616.4 124.7h0M621 127.3h0M622.8 126.3h0M621 116.2h0M627.2 119.2h0M623.3 131.2h0M620.6 131.5h0M626.5 134.8h0M626.8 132.8h0M626 130.9h0M625.9 129h0M625.8 127.3h0M626.2 125.1h0M626.7 123.9h0M626.7 123h0M619.8 90.4h0M619.8 100.3h0M622.2 100.3h0M619.8 108.4h0M626 111.4h0M619.5 113.7h0M622.2 117.6h0M622.5 121.3h0" stroke="#4b4b4b" stroke-width="2.8" stroke-linecap="round" fill="none"/>
</g>
<line x1="44" y1="60.4" x2="685" y2="60.4" stroke="#999" stroke-width="1.2"/>
<line x1="44" y1="82.3" x2="685" y2="82.3" stroke="#666" stroke-width="1" stroke-dasharray="2.4 1.45"/>
<circle cx="304.9" cy="30.3" r="2.1" fill="#fa5b40"/><circle cx="304.9" cy="36.4" r="2.1" fill="#fa5b40"/>
<circle cx="248.8" cy="65.8" r="1.6" fill="#22ee22"/><circle cx="305" cy="77.7" r="1.6" fill="#22ee22"/>
<g stroke="#999" stroke-width="1.1" fill="none"><path d="M44 25.7V158
M40 158H44
M40 141.5H44
M40 124.9H44
M40 108.4H44
M40 91.8H44
M40 75.3H44
M40 58.8H44
M40 42.2H44
M40 25.7H44
"/></g>
<text x="0" y="0" transform="translate(35.7 158) rotate(-90)" text-anchor="middle" font-size="15.6">0</text>
<text x="0" y="0" transform="translate(35.7 124.9) rotate(-90)" text-anchor="middle" font-size="15.6">2</text>
<text x="0" y="0" transform="translate(35.7 91.8) rotate(-90)" text-anchor="middle" font-size="15.6">4</text>
<text x="0" y="0" transform="translate(35.7 58.8) rotate(-90)" text-anchor="middle" font-size="15.6">6</text>
<text x="0" y="0" transform="translate(35.7 25.7) rotate(-90)" text-anchor="middle" font-size="15.6">8</text>
<text transform="translate(13.1 93.6) rotate(-90)" text-anchor="middle" font-size="16">log(1/p)</text>
<text x="53.4" y="35.2" font-size="16.2">Arm bones</text>
<text x="5.5" y="8.8" font-size="16">a</text>
<g stroke="#999" stroke-width="1.1" fill="none"><path d="M96.4 163.9H646.7
M96.4 163.9v4
M149.4 163.9v4
M184 163.9v4
M217 163.9v4
M246.6 163.9v4
M277.4 163.9v4
M309.6 163.9v4
M344 163.9v4
M377.6 163.9v4
M405.6 163.9v4
M427.2 163.9v4
M446.5 163.9v4
M477.8 163.9v4
M519.5 163.9v4
M555.1 163.9v4
M583.3 163.9v4
M603.6 163.9v4
M622 163.9v4
M646.7 163.9v4
"/></g>
<text x="96.4" y="182.3" text-anchor="middle" font-size="15.8">1</text>
<text x="149.4" y="182.3" text-anchor="middle" font-size="15.8">2</text>
<text x="184" y="182.3" text-anchor="middle" font-size="15.8">3</text>
<text x="217" y="182.3" text-anchor="middle" font-size="15.8">4</text>
<text x="246.6" y="182.3" text-anchor="middle" font-size="15.8">5</text>
<text x="277.4" y="182.3" text-anchor="middle" font-size="15.8">6</text>
<text x="309.6" y="182.3" text-anchor="middle" font-size="15.8">7</text>
<text x="344" y="182.3" text-anchor="middle" font-size="15.8">8</text>
<text x="377.6" y="182.3" text-anchor="middle" font-size="15.8">9</text>
<text x="405.6" y="182.3" text-anchor="middle" font-size="15.8">10</text>
<text x="446.5" y="182.3" text-anchor="middle" font-size="15.8">12</text>
<text x="477.8" y="182.3" text-anchor="middle" font-size="15.8">13</text>
<text x="519.5" y="182.3" text-anchor="middle" font-size="15.8">14</text>
<text x="555.1" y="182.3" text-anchor="middle" font-size="15.8">15</text>
<text x="603.6" y="182.3" text-anchor="middle" font-size="15.8">17</text>
<text x="646.7" y="182.3" text-anchor="middle" font-size="15.8">X</text>
<text x="367" y="202" text-anchor="middle" font-size="16.3">Chromosome</text>
<text x="79" y="227.7" font-size="15">b</text>
<line x1="122.8" y1="372.8" x2="551" y2="372.8" stroke="#888" stroke-width="1.5"/>
<g stroke="#888" stroke-width="1"><path d="
M215.5 372.6v3.2
M299 372.6v3.2
M383.5 372.6v3.2
M467.5 372.6v3.2
M551 372.6v3.2
"/></g>
<path d="M131.7 239.3V375.4M123.3 339.3H131.7M123.3 306H131.7M123.3 272.6H131.7M123.3 239.3H131.7" stroke="#333" stroke-width="1" fill="none"/>
<text x="122.6" y="372.9" text-anchor="end" font-size="13.2">0</text>
<text x="122.6" y="343.2" text-anchor="end" font-size="13.2">2</text>
<text x="122.6" y="309.9" text-anchor="end" font-size="13.2">4</text>
<text x="122.6" y="276.5" text-anchor="end" font-size="13.2">6</text>
<text x="122.6" y="243.2" text-anchor="end" font-size="13.2">8</text>
<text transform="translate(105.3 304.9) rotate(-90)" text-anchor="middle" font-size="13.5">-log(Pvalue)</text>
<line x1="132" y1="273.4" x2="552.5" y2="273.4" stroke="#e14d4a" stroke-width="1.1" stroke-dasharray="16.3 16.14" stroke-dashoffset="9.2"/>
<circle cx="137.7" cy="327.6" r="2.85" fill="#2f72ac"/>
<circle cx="131.4" cy="369.9" r="2.85" fill="#2f72ac"/>
<circle cx="183.9" cy="351.7" r="2.85" fill="#2f72ac"/>
<circle cx="232.3" cy="366.6" r="2.85" fill="#2f72ac"/>
<circle cx="268.5" cy="360.3" r="2.85" fill="#2f72ac"/>
<circle cx="275.5" cy="290" r="2.85" fill="#2f72ac"/>
<circle cx="324.1" cy="365.6" r="2.85" fill="#2f72ac"/>
<circle cx="333.1" cy="372.3" r="2.85" fill="#2f72ac"/>
<circle cx="345.8" cy="339.2" r="2.85" fill="#2f72ac"/>
<circle cx="358" cy="353.5" r="2.85" fill="#2f72ac"/>
<circle cx="360.5" cy="347.8" r="2.85" fill="#2f72ac"/>
<circle cx="361.3" cy="357.2" r="2.85" fill="#2f72ac"/>
<circle cx="370.3" cy="359.2" r="2.85" fill="#2f72ac"/>
<circle cx="378.1" cy="366.6" r="2.85" fill="#2f72ac"/>
<circle cx="386.3" cy="324.5" r="2.85" fill="#2f72ac"/>
<circle cx="389.1" cy="338.4" r="2.85" fill="#2f72ac"/>
<circle cx="401.8" cy="367.8" r="2.85" fill="#2f72ac"/>
<circle cx="425.9" cy="323.2" r="2.85" fill="#2f72ac"/>
<circle cx="443.9" cy="360.9" r="2.85" fill="#2f72ac"/>
<circle cx="505.2" cy="372.7" r="2.85" fill="#2f72ac"/>
<circle cx="517.5" cy="291" r="2.85" fill="#2f72ac"/>
<circle cx="551" cy="362.5" r="2.85" fill="#2f72ac"/>
<circle cx="326.2" cy="241.6" r="2.85" fill="#c83a32"/><circle cx="387.9" cy="248.4" r="2.85" fill="#c83a32"/>
<text x="276" y="235" font-size="16">rs0700767</text>
<text x="373" y="242" font-size="16">rs0700777</text>
<text x="115" y="387.7" font-size="13.45">Start:34.336</text>
<text x="290.3" y="387.7" font-size="13.45">7 Region:915.67 (kb)</text>
<text x="489.3" y="387.7" font-size="13.45">End:35.251 (Mb)</text>
<rect x="131.4" y="391.6" width="419.8" height="11.2" fill="#9fc4da"/>
<path d="M131.4 391.6v11.2M138.2 391.6v11.2M184.4 391.6v11.2M232.3 391.6v11.2M268.5 391.6v11.2M275.5 391.6v11.2M324 391.6v11.2M333.1 391.6v11.2M345.8 391.6v11.2M358 391.6v11.2M360.5 391.6v11.2M361.3 391.6v11.2M370.3 391.6v11.2M378.1 391.6v11.2M386.3 391.6v11.2M389.1 391.6v11.2M401.8 391.6v11.2M425.9 391.6v11.2M443.9 391.6v11.2M505.2 391.6v11.2M517.5 391.6v11.2M551 391.6v11.2" stroke="#777" stroke-width="0.9"/>
<path d="M326.2 391.6v11.2M387.9 391.6v11.2" stroke="#c83a32" stroke-width="1"/>
<line x1="131.4" y1="402.8" x2="131.3" y2="415" stroke="#3f9a55" stroke-width="1"/>
<line x1="138.2" y1="402.8" x2="149.7" y2="415" stroke="#3f9a55" stroke-width="1"/>
<line x1="184.4" y1="402.8" x2="167.9" y2="415" stroke="#3f9a55" stroke-width="1"/>
<line x1="232.3" y1="402.8" x2="186.2" y2="415" stroke="#3f9a55" stroke-width="1"/>
<line x1="268.5" y1="402.8" x2="204.6" y2="415" stroke="#3f9a55" stroke-width="1"/>
<line x1="275.5" y1="402.8" x2="222.8" y2="415" stroke="#3f9a55" stroke-width="1"/>
<line x1="324" y1="402.8" x2="241.2" y2="415" stroke="#3f9a55" stroke-width="1"/>
<line x1="326.2" y1="402.8" x2="259.4" y2="415" stroke="#c83a32" stroke-width="1"/>
<line x1="333.1" y1="402.8" x2="277.8" y2="415" stroke="#3f9a55" stroke-width="1"/>
<line x1="345.8" y1="402.8" x2="296.1" y2="415" stroke="#3f9a55" stroke-width="1"/>
<line x1="358" y1="402.8" x2="314.4" y2="415" stroke="#3f9a55" stroke-width="1"/>
<line x1="360.5" y1="402.8" x2="332.6" y2="415" stroke="#3f9a55" stroke-width="1"/>
<line x1="361.3" y1="402.8" x2="351" y2="415" stroke="#3f9a55" stroke-width="1"/>
<line x1="370.3" y1="402.8" x2="369.2" y2="415" stroke="#3f9a55" stroke-width="1"/>
<line x1="378.1" y1="402.8" x2="387.5" y2="415" stroke="#3f9a55" stroke-width="1"/>
<line x1="386.3" y1="402.8" x2="405.9" y2="415" stroke="#3f9a55" stroke-width="1"/>
<line x1="387.9" y1="402.8" x2="424.1" y2="415" stroke="#c83a32" stroke-width="1"/>
<line x1="389.1" y1="402.8" x2="442.5" y2="415" stroke="#3f9a55" stroke-width="1"/>
<line x1="401.8" y1="402.8" x2="460.8" y2="415" stroke="#3f9a55" stroke-width="1"/>
<line x1="425.9" y1="402.8" x2="479" y2="415" stroke="#3f9a55" stroke-width="1"/>
<line x1="443.9" y1="402.8" x2="497.4" y2="415" stroke="#3f9a55" stroke-width="1"/>
<line x1="505.2" y1="402.8" x2="515.6" y2="415" stroke="#3f9a55" stroke-width="1"/>
<line x1="517.5" y1="402.8" x2="534" y2="415" stroke="#3f9a55" stroke-width="1"/>
<line x1="551" y1="402.8" x2="552.2" y2="415" stroke="#3f9a55" stroke-width="1"/>
<g stroke="#fff" stroke-width="0.9"><path d="M140.5 418.4l9.2 9l-9.2 9l-9.2 -9z" fill="#fefcf5"/><path d="M158.8 418.4l9.2 9l-9.2 9l-9.2 -9z" fill="#f4f4de"/><path d="M177.1 418.4l9.2 9l-9.2 9l-9.2 -9z" fill="#ebe8bb"/><path d="M195.4 418.4l9.2 9l-9.2 9l-9.2 -9z" fill="#ebe8bb"/><path d="M213.7 418.4l9.2 9l-9.2 9l-9.2 -9z" fill="#ebe8bb"/><path d="M232 418.4l9.2 9l-9.2 9l-9.2 -9z" fill="#e08838"/><path d="M250.3 418.4l9.2 9l-9.2 9l-9.2 -9z" fill="#d8261a"/><path d="M268.6 418.4l9.2 9l-9.2 9l-9.2 -9z" fill="#da4020"/><path d="M286.9 418.4l9.2 9l-9.2 9l-9.2 -9z" fill="#d8261a"/><path d="M305.2 418.4l9.2 9l-9.2 9l-9.2 -9z" fill="#d9d55e"/><path d="M323.5 418.4l9.2 9l-9.2 9l-9.2 -9z" fill="#d8261a"/><path d="M341.8 418.4l9.2 9l-9.2 9l-9.2 -9z" fill="#d9d55e"/><path d="M360.1 418.4l9.2 9l-9.2 9l-9.2 -9z" fill="#f4f4de"/><path d="M378.4 418.4l9.2 9l-9.2 9l-9.2 -9z" fill="#ebe8bb"/><path d="M396.7 418.4l9.2 9l-9.2 9l-9.2 -9z" fill="#d9d55e"/><path d="M415 418.4l9.2 9l-9.2 9l-9.2 -9z" fill="#f4f4de"/><path d="M433.3 418.4l9.2 9l-9.2 9l-9.2 -9z" fill="#d8261a"/><path d="M451.6 418.4l9.2 9l-9.2 9l-9.2 -9z" fill="#da4020"/><path d="M469.9 418.4l9.2 9l-9.2 9l-9.2 -9z" fill="#fefcf5"/><path d="M488.2 418.4l9.2 9l-9.2 9l-9.2 -9z" fill="#d8261a"/><path d="M506.5 418.4l9.2 9l-9.2 9l-9.2 -9z" fill="#d8261a"/><path d="M524.8 418.4l9.2 9l-9.2 9l-9.2 -9z" fill="#d8261a"/><path d="M543.1 418.4l9.2 9l-9.2 9l-9.2 -9z" fill="#d8261a"/><path d="M149.7 427.4l9.2 9l-9.2 9l-9.2 -9z" fill="#fefcf5"/><path d="M168 427.4l9.2 9l-9.2 9l-9.2 -9z" fill="#da4020"/><path d="M186.2 427.4l9.2 9l-9.2 9l-9.2 -9z" fill="#ebe8bb"/><path d="M204.6 427.4l9.2 9l-9.2 9l-9.2 -9z" fill="#d8261a"/><path d="M222.9 427.4l9.2 9l-9.2 9l-9.2 -9z" fill="#ebe8bb"/><path d="M241.2 427.4l9.2 9l-9.2 9l-9.2 -9z" fill="#d8261a"/><path d="M259.5 427.4l9.2 9l-9.2 9l-9.2 -9z" fill="#d8261a"/><path d="M277.8 427.4l9.2 9l-9.2 9l-9.2 -9z" fill="#da4020"/><path d="M296.1 427.4l9.2 9l-9.2 9l-9.2 -9z" fill="#e08838"/><path d="M314.4 427.4l9.2 9l-9.2 9l-9.2 -9z" fill="#d9d55e"/><path d="M332.6 427.4l9.2 9l-9.2 9l-9.2 -9z" fill="#d9d55e"/><path d="M351 427.4l9.2 9l-9.2 9l-9.2 -9z" fill="#f4f4de"/><path d="M369.2 427.4l9.2 9l-9.2 9l-9.2 -9z" fill="#e1de90"/><path d="M387.6 427.4l9.2 9l-9.2 9l-9.2 -9z" fill="#e06028"/><path d="M405.9 427.4l9.2 9l-9.2 9l-9.2 -9z" fill="#d8261a"/><path d="M424.1 427.4l9.2 9l-9.2 9l-9.2 -9z" fill="#fefcf5"/><path d="M442.5 427.4l9.2 9l-9.2 9l-9.2 -9z" fill="#ebe8bb"/><path d="M460.8 427.4l9.2 9l-9.2 9l-9.2 -9z" fill="#d8261a"/><path d="M479.1 427.4l9.2 9l-9.2 9l-9.2 -9z" fill="#fefcf5"/><path d="M497.4 427.4l9.2 9l-9.2 9l-9.2 -9z" fill="#d8261a"/><path d="M515.6 427.4l9.2 9l-9.2 9l-9.2 -9z" fill="#d8261a"/><path d="M534 427.4l9.2 9l-9.2 9l-9.2 -9z" fill="#d8261a"/><path d="M158.8 436.4l9.2 9l-9.2 9l-9.2 -9z" fill="#f4f4de"/><path d="M177.1 436.4l9.2 9l-9.2 9l-9.2 -9z" fill="#ebe8bb"/><path d="M195.4 436.4l9.2 9l-9.2 9l-9.2 -9z" fill="#fefcf5"/><path d="M213.7 436.4l9.2 9l-9.2 9l-9.2 -9z" fill="#e06028"/><path d="M232 436.4l9.2 9l-9.2 9l-9.2 -9z" fill="#ebe8bb"/><path d="M250.3 436.4l9.2 9l-9.2 9l-9.2 -9z" fill="#e0b048"/><path d="M268.6 436.4l9.2 9l-9.2 9l-9.2 -9z" fill="#d8261a"/><path d="M286.9 436.4l9.2 9l-9.2 9l-9.2 -9z" fill="#da4020"/><path d="M305.2 436.4l9.2 9l-9.2 9l-9.2 -9z" fill="#d8261a"/><path d="M323.5 436.4l9.2 9l-9.2 9l-9.2 -9z" fill="#e1de90"/><path d="M341.8 436.4l9.2 9l-9.2 9l-9.2 -9z" fill="#fefcf5"/><path d="M360.1 436.4l9.2 9l-9.2 9l-9.2 -9z" fill="#da4020"/><path d="M378.4 436.4l9.2 9l-9.2 9l-9.2 -9z" fill="#fefcf5"/><path d="M396.7 436.4l9.2 9l-9.2 9l-9.2 -9z" fill="#f4f4de"/><path d="M415 436.4l9.2 9l-9.2 9l-9.2 -9z" fill="#e1de90"/><path d="M433.3 436.4l9.2 9l-9.2 9l-9.2 -9z" fill="#fefcf5"/><path d="M451.6 436.4l9.2 9l-9.2 9l-9.2 -9z" fill="#d8261a"/><path d="M469.9 436.4l9.2 9l-9.2 9l-9.2 -9z" fill="#e1de90"/><path d="M488.2 436.4l9.2 9l-9.2 9l-9.2 -9z" fill="#fefcf5"/><path d="M506.5 436.4l9.2 9l-9.2 9l-9.2 -9z" fill="#e06028"/><path d="M524.8 436.4l9.2 9l-9.2 9l-9.2 -9z" fill="#d8261a"/><path d="M167.9 445.5l9.2 9l-9.2 9l-9.2 -9z" fill="#d9d55e"/><path d="M186.2 445.5l9.2 9l-9.2 9l-9.2 -9z" fill="#d8261a"/><path d="M204.5 445.5l9.2 9l-9.2 9l-9.2 -9z" fill="#e1de90"/><path d="M222.8 445.5l9.2 9l-9.2 9l-9.2 -9z" fill="#d8261a"/><path d="M241.1 445.5l9.2 9l-9.2 9l-9.2 -9z" fill="#f4f4de"/><path d="M259.4 445.5l9.2 9l-9.2 9l-9.2 -9z" fill="#e0b048"/><path d="M277.8 445.5l9.2 9l-9.2 9l-9.2 -9z" fill="#d9d55e"/><path d="M296 445.5l9.2 9l-9.2 9l-9.2 -9z" fill="#da4020"/><path d="M314.4 445.5l9.2 9l-9.2 9l-9.2 -9z" fill="#ebe8bb"/><path d="M332.6 445.5l9.2 9l-9.2 9l-9.2 -9z" fill="#d9d55e"/><path d="M350.9 445.5l9.2 9l-9.2 9l-9.2 -9z" fill="#da4020"/><path d="M369.2 445.5l9.2 9l-9.2 9l-9.2 -9z" fill="#e1de90"/><path d="M387.6 445.5l9.2 9l-9.2 9l-9.2 -9z" fill="#d8261a"/><path d="M405.9 445.5l9.2 9l-9.2 9l-9.2 -9z" fill="#fefcf5"/><path d="M424.1 445.5l9.2 9l-9.2 9l-9.2 -9z" fill="#f4f4de"/><path d="M442.4 445.5l9.2 9l-9.2 9l-9.2 -9z" fill="#f4f4de"/><path d="M460.8 445.5l9.2 9l-9.2 9l-9.2 -9z" fill="#d8261a"/><path d="M479.1 445.5l9.2 9l-9.2 9l-9.2 -9z" fill="#e1de90"/><path d="M497.4 445.5l9.2 9l-9.2 9l-9.2 -9z" fill="#f4f4de"/><path d="M515.6 445.5l9.2 9l-9.2 9l-9.2 -9z" fill="#d8261a"/><path d="M177.1 454.5l9.2 9l-9.2 9l-9.2 -9z" fill="#fefcf5"/><path d="M195.4 454.5l9.2 9l-9.2 9l-9.2 -9z" fill="#e08838"/><path d="M213.7 454.5l9.2 9l-9.2 9l-9.2 -9z" fill="#fefcf5"/><path d="M232 454.5l9.2 9l-9.2 9l-9.2 -9z" fill="#e0b048"/><path d="M250.3 454.5l9.2 9l-9.2 9l-9.2 -9z" fill="#f4f4de"/><path d="M268.6 454.5l9.2 9l-9.2 9l-9.2 -9z" fill="#e0b048"/><path d="M286.9 454.5l9.2 9l-9.2 9l-9.2 -9z" fill="#d9d55e"/><path d="M305.2 454.5l9.2 9l-9.2 9l-9.2 -9z" fill="#d8261a"/><path d="M323.5 454.5l9.2 9l-9.2 9l-9.2 -9z" fill="#d9d55e"/><path d="M341.8 454.5l9.2 9l-9.2 9l-9.2 -9z" fill="#d9d55e"/><path d="M360.1 454.5l9.2 9l-9.2 9l-9.2 -9z" fill="#e1de90"/><path d="M378.4 454.5l9.2 9l-9.2 9l-9.2 -9z" fill="#d8261a"/><path d="M396.7 454.5l9.2 9l-9.2 9l-9.2 -9z" fill="#d9d55e"/><path d="M415 454.5l9.2 9l-9.2 9l-9.2 -9z" fill="#fefcf5"/><path d="M433.3 454.5l9.2 9l-9.2 9l-9.2 -9z" fill="#d8261a"/><path d="M451.6 454.5l9.2 9l-9.2 9l-9.2 -9z" fill="#e0b048"/><path d="M469.9 454.5l9.2 9l-9.2 9l-9.2 -9z" fill="#d8261a"/><path d="M488.2 454.5l9.2 9l-9.2 9l-9.2 -9z" fill="#e08838"/><path d="M506.5 454.5l9.2 9l-9.2 9l-9.2 -9z" fill="#fefcf5"/><path d="M186.2 463.5l9.2 9l-9.2 9l-9.2 -9z" fill="#fefcf5"/><path d="M204.6 463.5l9.2 9l-9.2 9l-9.2 -9z" fill="#d8261a"/><path d="M222.8 463.5l9.2 9l-9.2 9l-9.2 -9z" fill="#da4020"/><path d="M241.2 463.5l9.2 9l-9.2 9l-9.2 -9z" fill="#e06028"/><path d="M259.4 463.5l9.2 9l-9.2 9l-9.2 -9z" fill="#f4f4de"/><path d="M277.8 463.5l9.2 9l-9.2 9l-9.2 -9z" fill="#e0b048"/><path d="M296.1 463.5l9.2 9l-9.2 9l-9.2 -9z" fill="#d9d55e"/><path d="M314.4 463.5l9.2 9l-9.2 9l-9.2 -9z" fill="#fefcf5"/><path d="M332.6 463.5l9.2 9l-9.2 9l-9.2 -9z" fill="#d8261a"/><path d="M351 463.5l9.2 9l-9.2 9l-9.2 -9z" fill="#e1de90"/><path d="M369.2 463.5l9.2 9l-9.2 9l-9.2 -9z" fill="#d8261a"/><path d="M387.6 463.5l9.2 9l-9.2 9l-9.2 -9z" fill="#ebe8bb"/><path d="M405.9 463.5l9.2 9l-9.2 9l-9.2 -9z" fill="#e1de90"/><path d="M424.1 463.5l9.2 9l-9.2 9l-9.2 -9z" fill="#f4f4de"/><path d="M442.4 463.5l9.2 9l-9.2 9l-9.2 -9z" fill="#e08838"/><path d="M460.8 463.5l9.2 9l-9.2 9l-9.2 -9z" fill="#e1de90"/><path d="M479.1 463.5l9.2 9l-9.2 9l-9.2 -9z" fill="#da4020"/><path d="M497.4 463.5l9.2 9l-9.2 9l-9.2 -9z" fill="#ebe8bb"/><path d="M195.4 472.6l9.2 9l-9.2 9l-9.2 -9z" fill="#f4f4de"/><path d="M213.7 472.6l9.2 9l-9.2 9l-9.2 -9z" fill="#e0b048"/><path d="M232 472.6l9.2 9l-9.2 9l-9.2 -9z" fill="#f4f4de"/><path d="M250.3 472.6l9.2 9l-9.2 9l-9.2 -9z" fill="#e1de90"/><path d="M268.6 472.6l9.2 9l-9.2 9l-9.2 -9z" fill="#ebe8bb"/><path d="M286.9 472.6l9.2 9l-9.2 9l-9.2 -9z" fill="#d8261a"/><path d="M305.2 472.6l9.2 9l-9.2 9l-9.2 -9z" fill="#d9d55e"/><path d="M323.5 472.6l9.2 9l-9.2 9l-9.2 -9z" fill="#e06028"/><path d="M341.8 472.6l9.2 9l-9.2 9l-9.2 -9z" fill="#e08838"/><path d="M360.1 472.6l9.2 9l-9.2 9l-9.2 -9z" fill="#d8261a"/><path d="M378.4 472.6l9.2 9l-9.2 9l-9.2 -9z" fill="#e1de90"/><path d="M396.7 472.6l9.2 9l-9.2 9l-9.2 -9z" fill="#fefcf5"/><path d="M415 472.6l9.2 9l-9.2 9l-9.2 -9z" fill="#d8261a"/><path d="M433.3 472.6l9.2 9l-9.2 9l-9.2 -9z" fill="#e06028"/><path d="M451.6 472.6l9.2 9l-9.2 9l-9.2 -9z" fill="#e0b048"/><path d="M469.9 472.6l9.2 9l-9.2 9l-9.2 -9z" fill="#fefcf5"/><path d="M488.2 472.6l9.2 9l-9.2 9l-9.2 -9z" fill="#d8261a"/><path d="M204.6 481.6l9.2 9l-9.2 9l-9.2 -9z" fill="#fefcf5"/><path d="M222.9 481.6l9.2 9l-9.2 9l-9.2 -9z" fill="#e0b048"/><path d="M241.2 481.6l9.2 9l-9.2 9l-9.2 -9z" fill="#e08838"/><path d="M259.5 481.6l9.2 9l-9.2 9l-9.2 -9z" fill="#e1de90"/><path d="M277.8 481.6l9.2 9l-9.2 9l-9.2 -9z" fill="#e0b048"/><path d="M296.1 481.6l9.2 9l-9.2 9l-9.2 -9z" fill="#fefcf5"/><path d="M314.4 481.6l9.2 9l-9.2 9l-9.2 -9z" fill="#d9d55e"/><path d="M332.6 481.6l9.2 9l-9.2 9l-9.2 -9z" fill="#fefcf5"/><path d="M351 481.6l9.2 9l-9.2 9l-9.2 -9z" fill="#d8261a"/><path d="M369.2 481.6l9.2 9l-9.2 9l-9.2 -9z" fill="#e1de90"/><path d="M387.6 481.6l9.2 9l-9.2 9l-9.2 -9z" fill="#fefcf5"/><path d="M405.9 481.6l9.2 9l-9.2 9l-9.2 -9z" fill="#d8261a"/><path d="M424.2 481.6l9.2 9l-9.2 9l-9.2 -9z" fill="#ebe8bb"/><path d="M442.5 481.6l9.2 9l-9.2 9l-9.2 -9z" fill="#d9d55e"/><path d="M460.8 481.6l9.2 9l-9.2 9l-9.2 -9z" fill="#d8261a"/><path d="M479.1 481.6l9.2 9l-9.2 9l-9.2 -9z" fill="#e0b048"/><path d="M213.7 490.6l9.2 9l-9.2 9l-9.2 -9z" fill="#fefcf5"/><path d="M232 490.6l9.2 9l-9.2 9l-9.2 -9z" fill="#e0b048"/><path d="M250.3 490.6l9.2 9l-9.2 9l-9.2 -9z" fill="#e08838"/><path d="M268.6 490.6l9.2 9l-9.2 9l-9.2 -9z" fill="#d9d55e"/><path d="M286.9 490.6l9.2 9l-9.2 9l-9.2 -9z" fill="#f4f4de"/><path d="M305.2 490.6l9.2 9l-9.2 9l-9.2 -9z" fill="#e0b048"/><path d="M323.5 490.6l9.2 9l-9.2 9l-9.2 -9z" fill="#e1de90"/><path d="M341.8 490.6l9.2 9l-9.2 9l-9.2 -9z" fill="#d8261a"/><path d="M360.1 490.6l9.2 9l-9.2 9l-9.2 -9z" fill="#f4f4de"/><path d="M378.4 490.6l9.2 9l-9.2 9l-9.2 -9z" fill="#f4f4de"/><path d="M396.7 490.6l9.2 9l-9.2 9l-9.2 -9z" fill="#d8261a"/><path d="M415 490.6l9.2 9l-9.2 9l-9.2 -9z" fill="#e0b048"/><path d="M433.3 490.6l9.2 9l-9.2 9l-9.2 -9z" fill="#e1de90"/><path d="M451.6 490.6l9.2 9l-9.2 9l-9.2 -9z" fill="#f4f4de"/><path d="M469.9 490.6l9.2 9l-9.2 9l-9.2 -9z" fill="#e08838"/><path d="M222.9 499.6l9.2 9l-9.2 9l-9.2 -9z" fill="#fefcf5"/><path d="M241.2 499.6l9.2 9l-9.2 9l-9.2 -9z" fill="#e0b048"/><path d="M259.5 499.6l9.2 9l-9.2 9l-9.2 -9z" fill="#ebe8bb"/><path d="M277.8 499.6l9.2 9l-9.2 9l-9.2 -9z" fill="#d9d55e"/><path d="M296.1 499.6l9.2 9l-9.2 9l-9.2 -9z" fill="#ebe8bb"/><path d="M314.4 499.6l9.2 9l-9.2 9l-9.2 -9z" fill="#fefcf5"/><path d="M332.7 499.6l9.2 9l-9.2 9l-9.2 -9z" fill="#d8261a"/><path d="M351 499.6l9.2 9l-9.2 9l-9.2 -9z" fill="#da4020"/><path d="M369.2 499.6l9.2 9l-9.2 9l-9.2 -9z" fill="#f4f4de"/><path d="M387.6 499.6l9.2 9l-9.2 9l-9.2 -9z" fill="#e0b048"/><path d="M405.9 499.6l9.2 9l-9.2 9l-9.2 -9z" fill="#d9d55e"/><path d="M424.2 499.6l9.2 9l-9.2 9l-9.2 -9z" fill="#e0b048"/><path d="M442.5 499.6l9.2 9l-9.2 9l-9.2 -9z" fill="#d8261a"/><path d="M460.8 499.6l9.2 9l-9.2 9l-9.2 -9z" fill="#e08838"/><path d="M232 508.7l9.2 9l-9.2 9l-9.2 -9z" fill="#fefcf5"/><path d="M250.3 508.7l9.2 9l-9.2 9l-9.2 -9z" fill="#da4020"/><path d="M268.6 508.7l9.2 9l-9.2 9l-9.2 -9z" fill="#f4f4de"/><path d="M286.9 508.7l9.2 9l-9.2 9l-9.2 -9z" fill="#e1de90"/><path d="M305.2 508.7l9.2 9l-9.2 9l-9.2 -9z" fill="#fefcf5"/><path d="M323.5 508.7l9.2 9l-9.2 9l-9.2 -9z" fill="#d8261a"/><path d="M341.8 508.7l9.2 9l-9.2 9l-9.2 -9z" fill="#d9d55e"/><path d="M360.1 508.7l9.2 9l-9.2 9l-9.2 -9z" fill="#f4f4de"/><path d="M378.4 508.7l9.2 9l-9.2 9l-9.2 -9z" fill="#d8261a"/><path d="M396.7 508.7l9.2 9l-9.2 9l-9.2 -9z" fill="#da4020"/><path d="M415 508.7l9.2 9l-9.2 9l-9.2 -9z" fill="#e0b048"/><path d="M433.3 508.7l9.2 9l-9.2 9l-9.2 -9z" fill="#d8261a"/><path d="M451.6 508.7l9.2 9l-9.2 9l-9.2 -9z" fill="#ebe8bb"/><path d="M241.2 517.7l9.2 9l-9.2 9l-9.2 -9z" fill="#e1de90"/><path d="M259.4 517.7l9.2 9l-9.2 9l-9.2 -9z" fill="#f4f4de"/><path d="M277.8 517.7l9.2 9l-9.2 9l-9.2 -9z" fill="#e06028"/><path d="M296.1 517.7l9.2 9l-9.2 9l-9.2 -9z" fill="#e1de90"/><path d="M314.4 517.7l9.2 9l-9.2 9l-9.2 -9z" fill="#ebe8bb"/><path d="M332.6 517.7l9.2 9l-9.2 9l-9.2 -9z" fill="#e08838"/><path d="M351 517.7l9.2 9l-9.2 9l-9.2 -9z" fill="#fefcf5"/><path d="M369.2 517.7l9.2 9l-9.2 9l-9.2 -9z" fill="#da4020"/><path d="M387.6 517.7l9.2 9l-9.2 9l-9.2 -9z" fill="#e08838"/><path d="M405.9 517.7l9.2 9l-9.2 9l-9.2 -9z" fill="#da4020"/><path d="M424.1 517.7l9.2 9l-9.2 9l-9.2 -9z" fill="#d8261a"/><path d="M442.5 517.7l9.2 9l-9.2 9l-9.2 -9z" fill="#e0b048"/><path d="M250.3 526.7l9.2 9l-9.2 9l-9.2 -9z" fill="#fefcf5"/><path d="M268.6 526.7l9.2 9l-9.2 9l-9.2 -9z" fill="#e0b048"/><path d="M286.9 526.7l9.2 9l-9.2 9l-9.2 -9z" fill="#d9d55e"/><path d="M305.2 526.7l9.2 9l-9.2 9l-9.2 -9z" fill="#d8261a"/><path d="M323.5 526.7l9.2 9l-9.2 9l-9.2 -9z" fill="#e0b048"/><path d="M341.8 526.7l9.2 9l-9.2 9l-9.2 -9z" fill="#f4f4de"/><path d="M360.1 526.7l9.2 9l-9.2 9l-9.2 -9z" fill="#d8261a"/><path d="M378.4 526.7l9.2 9l-9.2 9l-9.2 -9z" fill="#da4020"/><path d="M396.7 526.7l9.2 9l-9.2 9l-9.2 -9z" fill="#d8261a"/><path d="M415 526.7l9.2 9l-9.2 9l-9.2 -9z" fill="#d8261a"/><path d="M433.3 526.7l9.2 9l-9.2 9l-9.2 -9z" fill="#d9d55e"/><path d="M259.4 535.8l9.2 9l-9.2 9l-9.2 -9z" fill="#fefcf5"/><path d="M277.8 535.8l9.2 9l-9.2 9l-9.2 -9z" fill="#f4f4de"/><path d="M296.1 535.8l9.2 9l-9.2 9l-9.2 -9z" fill="#f4f4de"/><path d="M314.4 535.8l9.2 9l-9.2 9l-9.2 -9z" fill="#e1de90"/><path d="M332.6 535.8l9.2 9l-9.2 9l-9.2 -9z" fill="#d9d55e"/><path d="M350.9 535.8l9.2 9l-9.2 9l-9.2 -9z" fill="#e0b048"/><path d="M369.2 535.8l9.2 9l-9.2 9l-9.2 -9z" fill="#d8261a"/><path d="M387.5 535.8l9.2 9l-9.2 9l-9.2 -9z" fill="#da4020"/><path d="M405.9 535.8l9.2 9l-9.2 9l-9.2 -9z" fill="#d8261a"/><path d="M424.1 535.8l9.2 9l-9.2 9l-9.2 -9z" fill="#d8261a"/><path d="M268.6 544.8l9.2 9l-9.2 9l-9.2 -9z" fill="#fefcf5"/><path d="M286.9 544.8l9.2 9l-9.2 9l-9.2 -9z" fill="#da4020"/><path d="M305.2 544.8l9.2 9l-9.2 9l-9.2 -9z" fill="#ebe8bb"/><path d="M323.5 544.8l9.2 9l-9.2 9l-9.2 -9z" fill="#f4f4de"/><path d="M341.8 544.8l9.2 9l-9.2 9l-9.2 -9z" fill="#ebe8bb"/><path d="M360.1 544.8l9.2 9l-9.2 9l-9.2 -9z" fill="#e0b048"/><path d="M378.4 544.8l9.2 9l-9.2 9l-9.2 -9z" fill="#da4020"/><path d="M396.7 544.8l9.2 9l-9.2 9l-9.2 -9z" fill="#e06028"/><path d="M415 544.8l9.2 9l-9.2 9l-9.2 -9z" fill="#da4020"/><path d="M277.8 553.8l9.2 9l-9.2 9l-9.2 -9z" fill="#fefcf5"/><path d="M296.1 553.8l9.2 9l-9.2 9l-9.2 -9z" fill="#e0b048"/><path d="M314.4 553.8l9.2 9l-9.2 9l-9.2 -9z" fill="#fefcf5"/><path d="M332.6 553.8l9.2 9l-9.2 9l-9.2 -9z" fill="#d8261a"/><path d="M350.9 553.8l9.2 9l-9.2 9l-9.2 -9z" fill="#fefcf5"/><path d="M369.2 553.8l9.2 9l-9.2 9l-9.2 -9z" fill="#e0b048"/><path d="M387.6 553.8l9.2 9l-9.2 9l-9.2 -9z" fill="#d8261a"/><path d="M405.9 553.8l9.2 9l-9.2 9l-9.2 -9z" fill="#da4020"/><path d="M286.9 562.9l9.2 9l-9.2 9l-9.2 -9z" fill="#e08838"/><path d="M305.2 562.9l9.2 9l-9.2 9l-9.2 -9z" fill="#f4f4de"/><path d="M323.5 562.9l9.2 9l-9.2 9l-9.2 -9z" fill="#e1de90"/><path d="M341.8 562.9l9.2 9l-9.2 9l-9.2 -9z" fill="#e0b048"/><path d="M360.1 562.9l9.2 9l-9.2 9l-9.2 -9z" fill="#f4f4de"/><path d="M378.4 562.9l9.2 9l-9.2 9l-9.2 -9z" fill="#e08838"/><path d="M396.7 562.9l9.2 9l-9.2 9l-9.2 -9z" fill="#da4020"/><path d="M296.1 571.9l9.2 9l-9.2 9l-9.2 -9z" fill="#e06028"/><path d="M314.4 571.9l9.2 9l-9.2 9l-9.2 -9z" fill="#e0b048"/><path d="M332.7 571.9l9.2 9l-9.2 9l-9.2 -9z" fill="#d9d55e"/><path d="M351 571.9l9.2 9l-9.2 9l-9.2 -9z" fill="#e08838"/><path d="M369.2 571.9l9.2 9l-9.2 9l-9.2 -9z" fill="#ebe8bb"/><path d="M387.6 571.9l9.2 9l-9.2 9l-9.2 -9z" fill="#e0b048"/><path d="M305.2 580.9l9.2 9l-9.2 9l-9.2 -9z" fill="#fefcf5"/><path d="M323.5 580.9l9.2 9l-9.2 9l-9.2 -9z" fill="#e0b048"/><path d="M341.8 580.9l9.2 9l-9.2 9l-9.2 -9z" fill="#d9d55e"/><path d="M360.1 580.9l9.2 9l-9.2 9l-9.2 -9z" fill="#e08838"/><path d="M378.4 580.9l9.2 9l-9.2 9l-9.2 -9z" fill="#f4f4de"/><path d="M314.4 589.9l9.2 9l-9.2 9l-9.2 -9z" fill="#fefcf5"/><path d="M332.7 589.9l9.2 9l-9.2 9l-9.2 -9z" fill="#d9d55e"/><path d="M351 589.9l9.2 9l-9.2 9l-9.2 -9z" fill="#ebe8bb"/><path d="M369.2 589.9l9.2 9l-9.2 9l-9.2 -9z" fill="#e0b048"/><path d="M323.5 599l9.2 9l-9.2 9l-9.2 -9z" fill="#fefcf5"/><path d="M341.8 599l9.2 9l-9.2 9l-9.2 -9z" fill="#e08838"/><path d="M360.1 599l9.2 9l-9.2 9l-9.2 -9z" fill="#d9d55e"/><path d="M332.6 608l9.2 9l-9.2 9l-9.2 -9z" fill="#fefcf5"/><path d="M350.9 608l9.2 9l-9.2 9l-9.2 -9z" fill="#e0b048"/><path d="M341.8 617l9.2 9l-9.2 9l-9.2 -9z" fill="#fefcf5"/></g>
<path d="M241.2 427.1H296.1M314.4 427.1H332.6M424.1 427.1H552.2" stroke="#000" stroke-opacity="0.5" stroke-width="1.7" fill="none"/>
<path d="M241.2 427.1L268.6 454.3L296.1 427.1M314.4 427.1L323.5 436.2L332.6 427.1M424.1 427.1L488.2 490.4L552.2 427.1" stroke="#111" stroke-width="1.05" fill="none"/>
<text x="351" y="506.5" text-anchor="middle" font-size="11">0.94</text>
<defs><linearGradient id="ck"><stop offset="0" stop-color="#fffff8"/><stop offset="0.25" stop-color="#f0efc4"/><stop offset="0.45" stop-color="#dcd858"/><stop offset="0.62" stop-color="#e0ac44"/><stop offset="0.8" stop-color="#e07030"/><stop offset="1" stop-color="#d82a20"/></linearGradient></defs>
<rect x="415.7" y="594.9" width="148.8" height="11.4" fill="url(#ck)" stroke="#000" stroke-width="1.1"/>
<text x="492" y="590.3" text-anchor="middle" font-size="13.6">D' Color Key</text>
<text x="417.8" y="618.8" text-anchor="middle" font-size="13.4">0.0</text>
<text x="561.2" y="618.8" text-anchor="middle" font-size="13.4">1.0</text>
<text x="175" y="648.6" font-size="16">c</text>
<rect x="198.3" y="655.5" width="313.3" height="313.4" fill="none" stroke="#333" stroke-width="1.2"/>
<path d="M191.6 957H198.3M191.6 896.5H198.3M191.6 836H198.3M191.6 775.5H198.3M191.6 715H198.3M258 968.9v6.6M354.8 968.9v6.6M451.9 968.9v6.6" stroke="#333" stroke-width="1.1"/>
<text transform="translate(183.5 957) rotate(-90)" text-anchor="middle" font-size="10.5">2.0</text>
<text transform="translate(183.5 896.5) rotate(-90)" text-anchor="middle" font-size="10.5">2.5</text>
<text transform="translate(183.5 836) rotate(-90)" text-anchor="middle" font-size="10.5">3.0</text>
<text transform="translate(183.5 775.5) rotate(-90)" text-anchor="middle" font-size="10.5">3.5</text>
<text transform="translate(183.5 715) rotate(-90)" text-anchor="middle" font-size="10.5">4.0</text>
<text transform="translate(166 812.5) rotate(-90)" text-anchor="middle" font-size="16">Arm bones proportion</text>
<text x="258" y="992" text-anchor="middle" font-size="10.5">AA</text>
<text x="354.8" y="992" text-anchor="middle" font-size="10.5">AG</text>
<text x="451.9" y="992" text-anchor="middle" font-size="10.5">GG</text>
<text x="355.3" y="1011.5" text-anchor="middle" font-size="16">Genotype</text>
<path d="M257.7 707.6H452.3M257.9 731.8H350M359.7 731.8H452.3" stroke="#000" stroke-width="2.2"/>
<text x="355.3" y="703.6" text-anchor="middle" font-size="12.5">1.19e-3</text>
<text x="306.7" y="727.5" text-anchor="middle" font-size="12.5">0.268</text>
<text x="402.8" y="727.5" text-anchor="middle" font-size="12.5">1.63e−11</text>
<text x="258" y="774.3" text-anchor="middle" font-size="10.8">N = 32</text>
<text x="258" y="788.3" text-anchor="middle" font-size="10.8">Median = 2.98</text>
<text x="355" y="756.8" text-anchor="middle" font-size="10.8">N = 375</text>
<text x="355" y="770.8" text-anchor="middle" font-size="10.8">Median = 2.92</text>
<text x="452" y="767.5" text-anchor="middle" font-size="10.8">N = 1602</text>
<text x="452" y="781.5" text-anchor="middle" font-size="10.8">Median = 2.85</text>
<path d="M239.2 793.9H277.2M239.2 879.6H277.2" stroke="#000" stroke-width="2.8" stroke-linecap="round"/><path d="M258.2 793.9V828.5M258.2 879.6V855" stroke="#000" stroke-width="2.8" stroke-dasharray="11 12"/><rect x="219.7" y="828.5" width="77" height="26.5" fill="#1f77b4" stroke="#000" stroke-width="3"/><rect x="219.7" y="834" width="77" height="9.2" fill="#000"/><g fill="#fff" stroke="#333" stroke-width="0.5"><circle cx="257.9" cy="813" r="0.9"/><circle cx="258.3" cy="816" r="0.9"/><circle cx="258" cy="818" r="0.9"/><circle cx="258.3" cy="821" r="0.9"/><circle cx="258.4" cy="823" r="0.9"/><circle cx="257.7" cy="826" r="0.9"/><circle cx="257.6" cy="829" r="0.9"/><circle cx="258.6" cy="832" r="0.9"/><circle cx="257.9" cy="836" r="0.9"/><circle cx="257.9" cy="840" r="0.9"/><circle cx="258.8" cy="842" r="0.9"/><circle cx="258.2" cy="845" r="0.9"/><circle cx="258.6" cy="848" r="0.9"/><circle cx="258.2" cy="851" r="0.9"/><circle cx="258.4" cy="853" r="0.9"/><circle cx="257.8" cy="870" r="0.9"/><circle cx="258.4" cy="872" r="0.9"/><circle cx="258.6" cy="874" r="0.9"/><circle cx="258.2" cy="876" r="0.9"/></g>
<path d="M336.1 785.4H374.1M336.1 904H374.1" stroke="#000" stroke-width="2.8" stroke-linecap="round"/><path d="M355.1 785.4V830.3M355.1 904V860.1" stroke="#000" stroke-width="2.8" stroke-dasharray="11 12"/><rect x="316.6" y="830.3" width="77" height="29.8" fill="#ff7f0e" stroke="#000" stroke-width="3"/><rect x="316.6" y="841.5" width="77" height="9.2" fill="#000"/><path d="M353.3 797H356.9M352.7 799H357.5M352.2 801H358M352.1 803H358.1M352.2 805H358M352.2 807H358M351.5 809H358.7M351.6 811H358.6M351.2 813H359M350.2 815H360M349.4 817H360.8M348.3 819H361.9M348.1 821H362.1M346.9 823H363.3M347.2 825H363M346.1 827H364.1M345.9 829H364.3M347 831H363.2M346.6 833H363.6M346.2 835H364M344.4 837H365.8M345.1 839H365.1M345.2 841H365M346.4 843H363.8M346.5 845H363.7M347.2 847H363M346.3 849H363.9M345 851H365.2M344.1 853H366.1M343.6 855H366.6M345.5 857H364.7M346.5 859H363.7M347.6 861H362.6M348.2 863H362M349.3 865H360.9M350.5 867H359.7M349.8 869H360.4M349.7 871H360.5M349.8 873H360.4M350.1 875H360.1M350.8 877H359.4M351.9 879H358.3M352.2 881H358M353.1 883H357.1" stroke="#dadada" stroke-width="1.6" stroke-dasharray="1.9 0.5" opacity="0.8" fill="none"/>
<path d="M433.1 792.5H471.1M433.1 914.7H471.1" stroke="#000" stroke-width="2.8" stroke-linecap="round"/><path d="M452.1 792.5V838.8M452.1 914.7V869.4" stroke="#000" stroke-width="2.8" stroke-dasharray="11 12"/><rect x="413.6" y="838.8" width="77" height="30.6" fill="#2ca02c" stroke="#000" stroke-width="3"/><rect x="413.6" y="850.1" width="77" height="9.2" fill="#000"/><path d="M450.8 800.9H453.4M449.4 802.8H454.8M449.3 804.7H454.9M448.2 806.6H456M447.9 808.5H456.3M447.5 810.4H456.7M446.6 812.3H457.6M445 814.2H459.2M443.9 816.1H460.3M444.3 818H459.9M442.4 819.9H461.8M442.4 821.8H461.8M439.3 823.7H464.9M438.8 825.6H465.4M435.7 827.5H468.5M433.7 829.4H470.5M433.8 831.3H470.4M430 833.2H474.2M431.2 835.1H473M430.6 837H473.6M412.2 871.2H492M412.4 873.1H491.8M418.1 875H486.1M421 876.9H483.2M421.7 878.8H482.5M426.7 880.7H477.5M428.6 882.6H475.6M427.8 884.5H476.4M432.1 886.4H472.1M434.4 888.3H469.8M438.4 890.2H465.8M439.5 892.1H464.7M441.4 894H462.8M444.1 895.9H460.1M444.4 897.8H459.8M445.9 899.7H458.3M447.9 901.6H456.3M448.6 903.5H455.6M449.9 905.4H454.3M451 907.3H453.2" stroke="#d3d3d3" stroke-width="1.25" stroke-dasharray="1.9 0.5" opacity="1" fill="none"/><path d="M414 838.9H490.2M417.7 840.8H486.5M415.8 842.7H488.4M413.5 844.6H490.7M411.2 846.5H493M414.3 848.4H489.9M414.4 850.3H489.8M404.3 852.2H499.9M406.6 854.1H497.6M397.3 856H506.9M399.4 857.9H504.8M407.8 859.8H496.4M410.2 861.7H494M411.1 863.6H493.1M410.6 865.5H493.6M411.6 867.4H492.6M412.4 869.3H491.8" stroke="#e4e4e4" stroke-width="1.25" stroke-dasharray="1.9 0.5" opacity="1" fill="none"/><path d="M452.1 800V905" stroke="#cfcfcf" stroke-width="3.2" opacity="0.7"/><circle cx="452.3" cy="931" r="0.9" fill="#ccc"/>
</svg></body></html>
